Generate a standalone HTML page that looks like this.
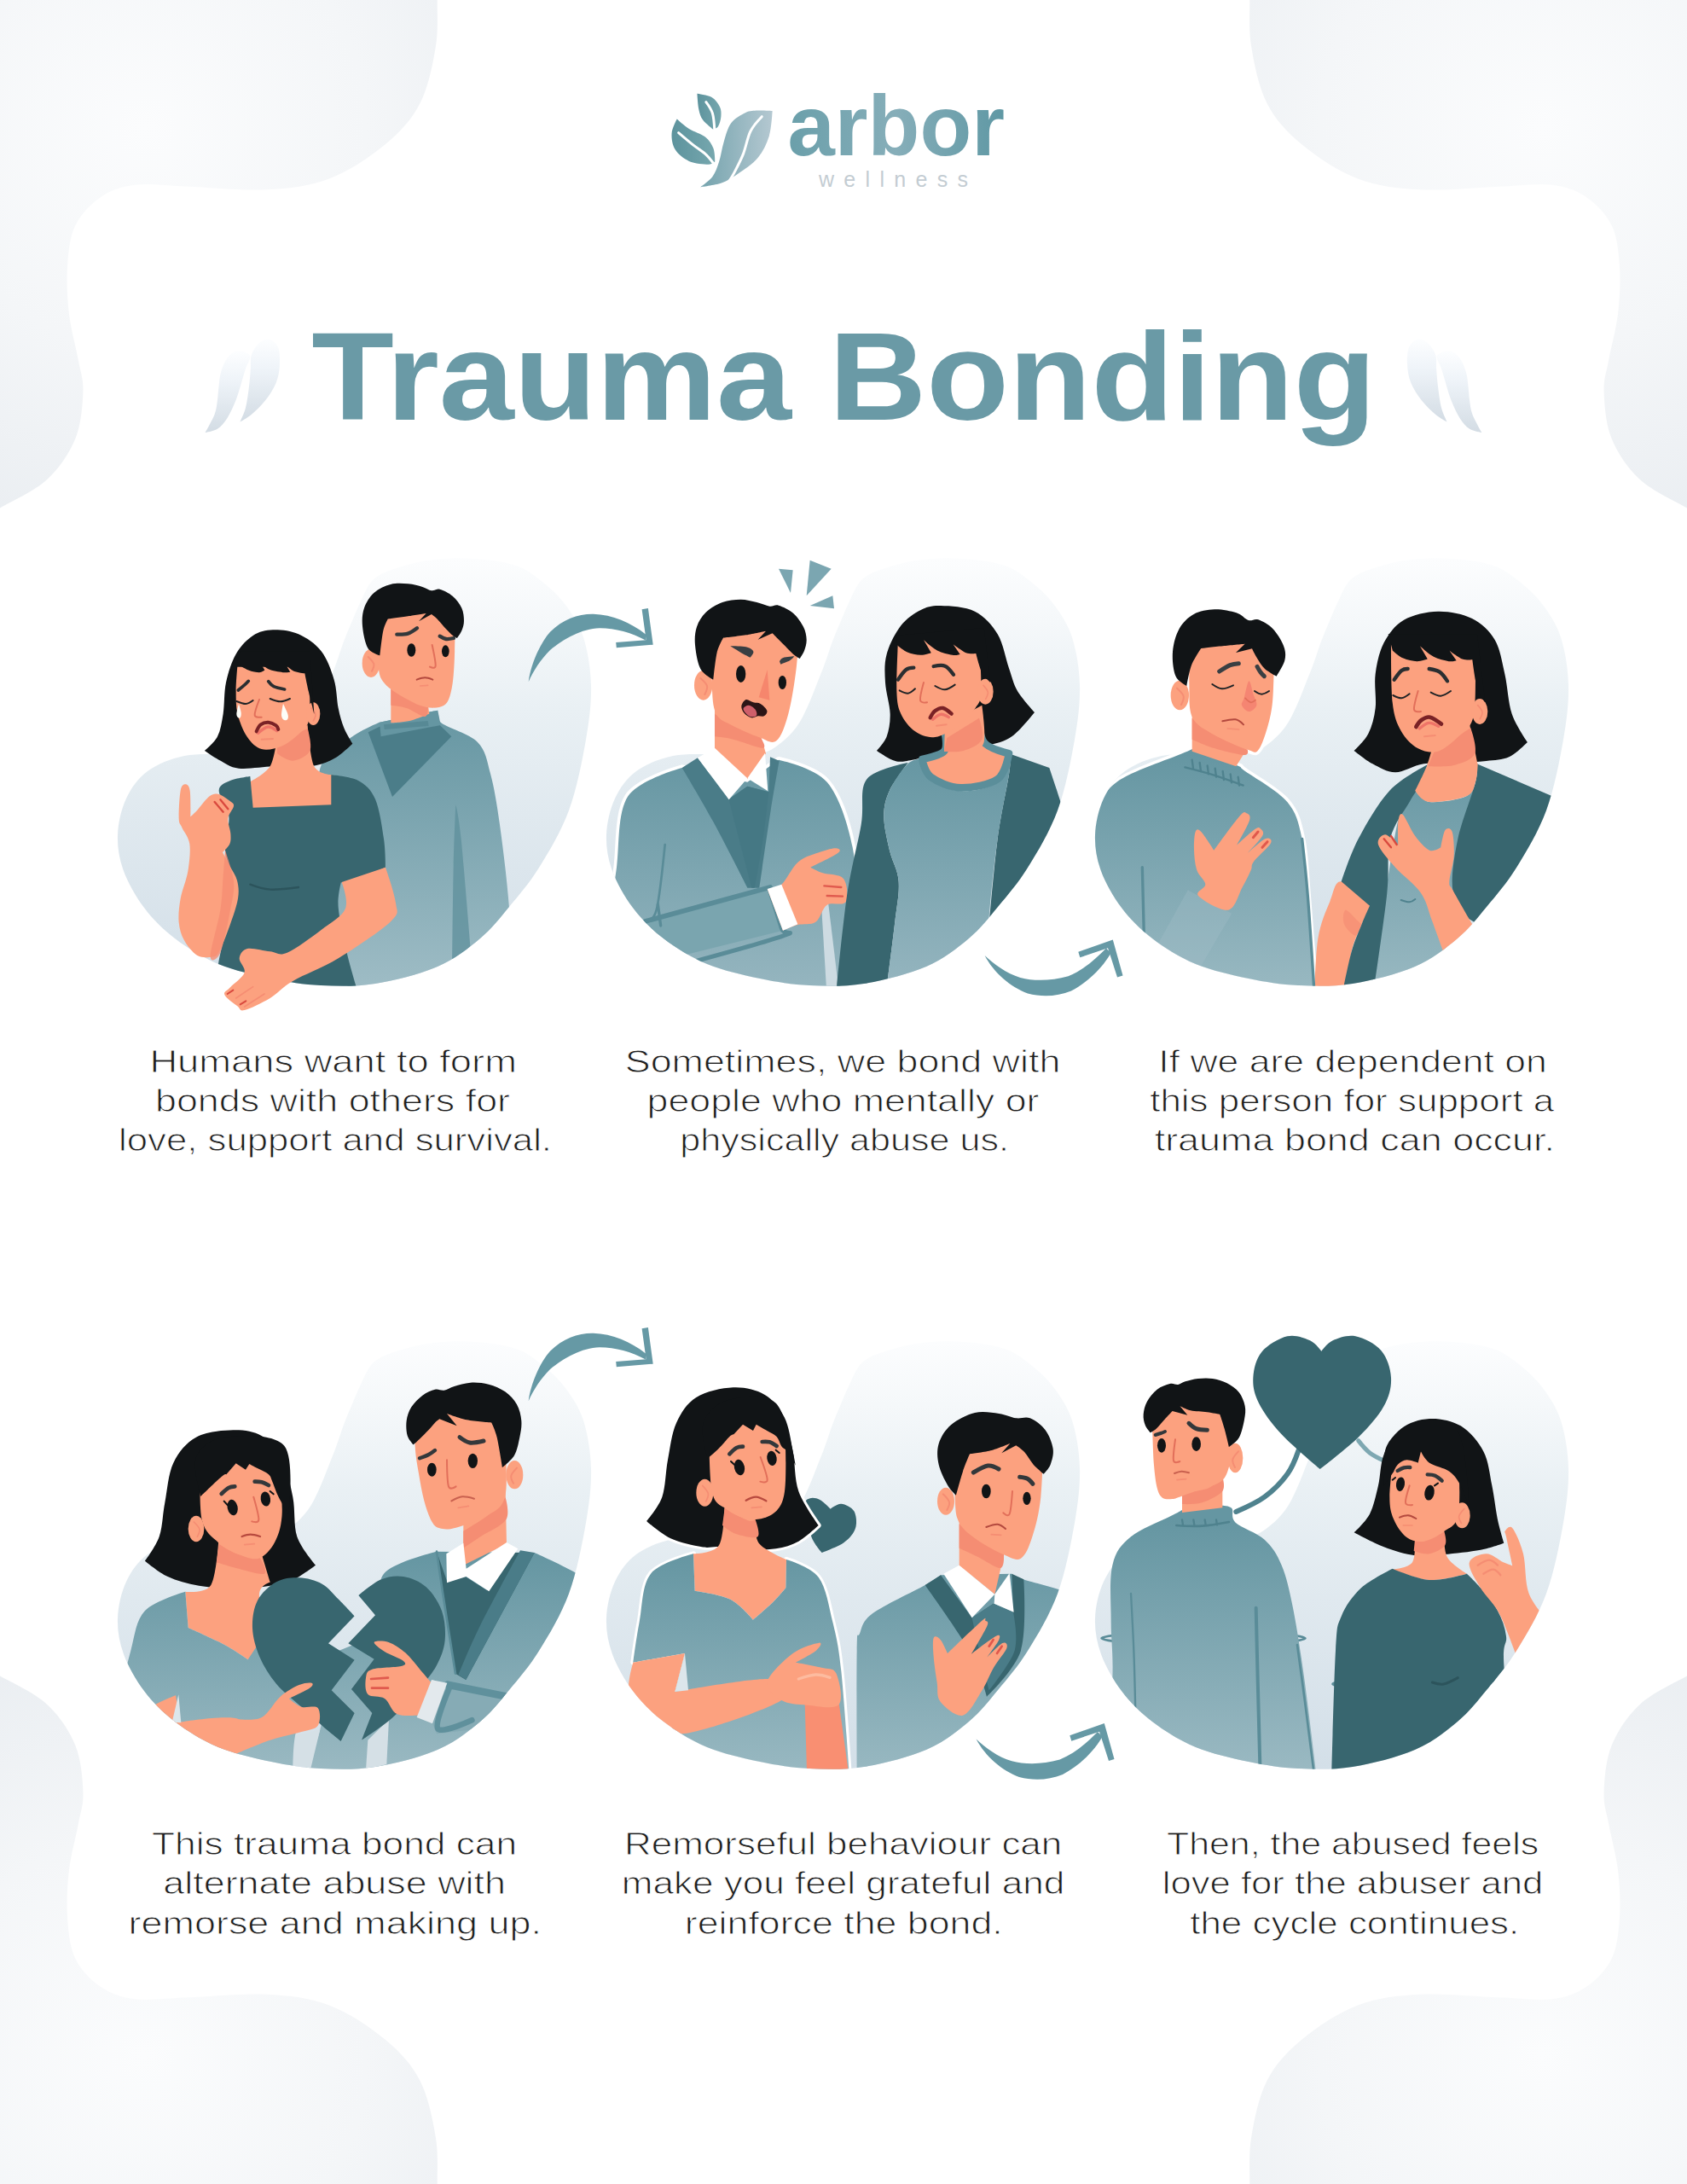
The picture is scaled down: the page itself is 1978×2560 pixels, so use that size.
<!DOCTYPE html>
<html lang="en"><head><meta charset="utf-8"><title>Trauma Bonding</title>
<style>html,body{margin:0;padding:0;background:#fff}svg{display:block}</style></head>
<body><svg width="1978" height="2560" viewBox="0 0 1978 2560">

<defs>
<linearGradient id="gblob" x1="0" y1="0" x2="0" y2="1"><stop offset="0" stop-color="#fcfdfe"/><stop offset="0.15" stop-color="#f5f8fa"/><stop offset="0.35" stop-color="#e9f0f4"/><stop offset="0.6" stop-color="#e0e9ef"/><stop offset="1" stop-color="#d3dfe8"/></linearGradient>
<radialGradient id="gcorner" gradientUnits="userSpaceOnUse" cx="170" cy="150" r="520"><stop offset="0" stop-color="#fbfcfd"/><stop offset="0.5" stop-color="#f4f6f8"/><stop offset="1" stop-color="#e9edf1"/></radialGradient>
<linearGradient id="gsw" gradientUnits="userSpaceOnUse" x1="0" y1="0" x2="0" y2="501"><stop offset="0.1" stop-color="#6798a4"/><stop offset="1" stop-color="#9dbcc5"/></linearGradient>
<linearGradient id="gtleaf" x1="0" y1="0" x2="0" y2="1"><stop offset="0" stop-color="#fdfeff"/><stop offset="0.35" stop-color="#eff4f9"/><stop offset="1" stop-color="#d3dce4"/></linearGradient>
<linearGradient id="glogo" x1="0" y1="0" x2="1" y2="0"><stop offset="0" stop-color="#6a9faa"/><stop offset="0.5" stop-color="#86aeb9"/><stop offset="1" stop-color="#5f98a4"/></linearGradient>
<linearGradient id="gleafb" x1="0" y1="0" x2="1" y2="0"><stop offset="0" stop-color="#74a3ad"/><stop offset="1" stop-color="#b4c8d1"/></linearGradient>
<linearGradient id="gleafs" x1="0" y1="0" x2="1" y2="0"><stop offset="0" stop-color="#5d939d"/><stop offset="1" stop-color="#76a7ae"/></linearGradient>
</defs><path d="M512.7 -20.0C512.7 -20.0 513.0 -12.5 512.7 0.0C512.4 12.5 514.2 34.8 510.8 55.0C507.4 75.2 502.3 102.0 492.5 121.0C482.7 140.0 469.8 154.2 452.0 169.0C434.2 183.8 409.3 200.6 386.0 209.5C362.7 218.4 340.0 220.8 312.4 222.3C284.8 223.8 246.2 219.6 220.5 218.7C194.8 217.8 175.2 214.7 158.0 216.8C140.8 218.9 129.2 223.5 117.6 231.5C106.0 239.5 94.6 251.1 88.2 264.6C81.8 278.1 80.2 295.2 79.0 312.4C77.8 329.5 78.8 349.1 80.9 367.5C83.1 385.9 89.2 407.3 91.9 422.6C94.7 437.9 98.0 444.1 97.4 459.4C96.8 474.7 95.3 497.4 88.2 514.5C81.1 531.6 69.7 548.8 55.0 562.3C40.3 575.8 12.5 588.3 0.0 595.4C-12.5 602.5 -20.0 605.0 -20.0 605.0L-20.0 -20.0L512.7 -20.0Z" fill="url(#gcorner)" transform=""/>
<path d="M512.7 -20.0C512.7 -20.0 513.0 -12.5 512.7 0.0C512.4 12.5 514.2 34.8 510.8 55.0C507.4 75.2 502.3 102.0 492.5 121.0C482.7 140.0 469.8 154.2 452.0 169.0C434.2 183.8 409.3 200.6 386.0 209.5C362.7 218.4 340.0 220.8 312.4 222.3C284.8 223.8 246.2 219.6 220.5 218.7C194.8 217.8 175.2 214.7 158.0 216.8C140.8 218.9 129.2 223.5 117.6 231.5C106.0 239.5 94.6 251.1 88.2 264.6C81.8 278.1 80.2 295.2 79.0 312.4C77.8 329.5 78.8 349.1 80.9 367.5C83.1 385.9 89.2 407.3 91.9 422.6C94.7 437.9 98.0 444.1 97.4 459.4C96.8 474.7 95.3 497.4 88.2 514.5C81.1 531.6 69.7 548.8 55.0 562.3C40.3 575.8 12.5 588.3 0.0 595.4C-12.5 602.5 -20.0 605.0 -20.0 605.0L-20.0 -20.0L512.7 -20.0Z" fill="url(#gcorner)" transform="translate(1978,0) scale(-1,1)"/>
<path d="M512.7 -20.0C512.7 -20.0 513.0 -12.5 512.7 0.0C512.4 12.5 514.2 34.8 510.8 55.0C507.4 75.2 502.3 102.0 492.5 121.0C482.7 140.0 469.8 154.2 452.0 169.0C434.2 183.8 409.3 200.6 386.0 209.5C362.7 218.4 340.0 220.8 312.4 222.3C284.8 223.8 246.2 219.6 220.5 218.7C194.8 217.8 175.2 214.7 158.0 216.8C140.8 218.9 129.2 223.5 117.6 231.5C106.0 239.5 94.6 251.1 88.2 264.6C81.8 278.1 80.2 295.2 79.0 312.4C77.8 329.5 78.8 349.1 80.9 367.5C83.1 385.9 89.2 407.3 91.9 422.6C94.7 437.9 98.0 444.1 97.4 459.4C96.8 474.7 95.3 497.4 88.2 514.5C81.1 531.6 69.7 548.8 55.0 562.3C40.3 575.8 12.5 588.3 0.0 595.4C-12.5 602.5 -20.0 605.0 -20.0 605.0L-20.0 -20.0L512.7 -20.0Z" fill="url(#gcorner)" transform="translate(0,2560) scale(1,-1)"/>
<path d="M512.7 -20.0C512.7 -20.0 513.0 -12.5 512.7 0.0C512.4 12.5 514.2 34.8 510.8 55.0C507.4 75.2 502.3 102.0 492.5 121.0C482.7 140.0 469.8 154.2 452.0 169.0C434.2 183.8 409.3 200.6 386.0 209.5C362.7 218.4 340.0 220.8 312.4 222.3C284.8 223.8 246.2 219.6 220.5 218.7C194.8 217.8 175.2 214.7 158.0 216.8C140.8 218.9 129.2 223.5 117.6 231.5C106.0 239.5 94.6 251.1 88.2 264.6C81.8 278.1 80.2 295.2 79.0 312.4C77.8 329.5 78.8 349.1 80.9 367.5C83.1 385.9 89.2 407.3 91.9 422.6C94.7 437.9 98.0 444.1 97.4 459.4C96.8 474.7 95.3 497.4 88.2 514.5C81.1 531.6 69.7 548.8 55.0 562.3C40.3 575.8 12.5 588.3 0.0 595.4C-12.5 602.5 -20.0 605.0 -20.0 605.0L-20.0 -20.0L512.7 -20.0Z" fill="url(#gcorner)" transform="translate(1978,2560) scale(-1,-1)"/>
<defs><path id="blobp" d="M78.0 231.0C62.2 234.3 46.3 240.7 35.0 249.0C23.7 257.3 15.8 268.5 10.0 281.0C4.2 293.5 0.5 309.8 0.0 324.0C-0.5 338.2 1.8 351.8 7.0 366.0C12.2 380.2 21.0 395.8 31.0 409.0C41.0 422.2 52.5 434.0 67.0 445.0C81.5 456.0 99.2 467.2 118.0 475.0C136.8 482.8 160.0 487.8 180.0 492.0C200.0 496.2 217.7 499.0 238.0 500.0C258.3 501.0 279.2 501.7 302.0 498.0C324.8 494.3 354.5 486.8 375.0 478.0C395.5 469.2 411.0 456.7 425.0 445.0C439.0 433.3 447.5 421.8 459.0 408.0C470.5 394.2 482.3 380.8 494.0 362.0C505.7 343.2 519.8 320.0 529.0 295.0C538.2 270.0 544.7 236.5 549.0 212.0C553.3 187.5 555.5 168.0 555.0 148.0C554.5 128.0 551.0 107.7 546.0 92.0C541.0 76.3 533.0 64.8 525.0 54.0C517.0 43.2 507.7 34.7 498.0 27.0C488.3 19.3 480.0 12.5 467.0 8.0C454.0 3.5 436.2 1.2 420.0 0.0C403.8 -1.2 385.0 -0.7 370.0 1.0C355.0 2.7 341.7 6.2 330.0 10.0C318.3 13.8 307.7 17.0 300.0 24.0C292.3 31.0 288.3 43.5 284.0 52.0C279.7 60.5 277.2 67.5 274.0 75.0C270.8 82.5 268.0 89.0 265.0 97.0C262.0 105.0 259.0 114.8 256.0 123.0C253.0 131.2 250.3 137.7 247.0 146.0C243.7 154.3 240.0 164.5 236.0 173.0C232.0 181.5 228.5 189.7 223.0 197.0C217.5 204.3 210.2 211.8 203.0 217.0C195.8 222.2 192.2 226.0 180.0 228.0C167.8 230.0 147.0 228.5 130.0 229.0C113.0 229.5 93.8 227.7 78.0 231.0Z"/><clipPath id="cb1"><use href="#blobp" transform="translate(138,655)"/></clipPath><clipPath id="cb2"><use href="#blobp" transform="translate(711,655)"/></clipPath><clipPath id="cb3"><use href="#blobp" transform="translate(1284,655)"/></clipPath><clipPath id="cb4"><use href="#blobp" transform="translate(138,1573)"/></clipPath><clipPath id="cb5"><use href="#blobp" transform="translate(711,1573)"/></clipPath><clipPath id="cb6"><use href="#blobp" transform="translate(1284,1573)"/></clipPath></defs>
<use href="#blobp" transform="translate(138,655)" fill="url(#gblob)"/>
<use href="#blobp" transform="translate(711,655)" fill="url(#gblob)"/>
<use href="#blobp" transform="translate(1284,655)" fill="url(#gblob)"/>
<use href="#blobp" transform="translate(138,1573)" fill="url(#gblob)"/>
<use href="#blobp" transform="translate(711,1573)" fill="url(#gblob)"/>
<use href="#blobp" transform="translate(1284,1573)" fill="url(#gblob)"/>
<g transform="translate(770,95) scale(0.09484)"><path d="M1430.0 370.0C1430.0 370.0 1305.0 361.7 1250.0 365.0C1195.0 368.3 1155.0 364.2 1100.0 390.0C1045.0 415.8 965.0 460.0 920.0 520.0C875.0 580.0 855.0 670.0 830.0 750.0C805.0 830.0 793.3 928.3 770.0 1000.0C746.7 1071.7 728.3 1128.3 690.0 1180.0C651.7 1231.7 540.0 1310.0 540.0 1310.0C540.0 1310.0 723.3 1286.7 800.0 1260.0C876.7 1233.3 925.0 1201.7 1000.0 1150.0C1075.0 1098.3 1185.0 1028.3 1250.0 950.0C1315.0 871.7 1360.0 776.7 1390.0 680.0C1420.0 583.3 1430.0 370.0 1430.0 370.0Z" fill="url(#gleafb)" /><path d="M1300.0 440.0C1300.0 440.0 1198.3 543.3 1160.0 620.0C1121.7 696.7 1103.3 815.0 1070.0 900.0C1036.7 985.0 988.3 1075.0 960.0 1130.0C931.7 1185.0 900.0 1230.0 900.0 1230.0" fill="none" stroke="#fff" stroke-width="32" stroke-linecap="round" stroke-linejoin="round" /><path d="M250.0 470.0C250.0 470.0 188.3 586.7 185.0 650.0C181.7 713.3 194.2 793.3 230.0 850.0C265.8 906.7 331.7 960.0 400.0 990.0C468.3 1020.0 586.7 1029.2 640.0 1030.0C693.3 1030.8 720.0 995.0 720.0 995.0C720.0 995.0 720.0 880.8 700.0 830.0C680.0 779.2 650.0 730.0 600.0 690.0C550.0 650.0 458.3 626.7 400.0 590.0C341.7 553.3 250.0 470.0 250.0 470.0Z" fill="url(#gleafs)" /><path d="M270.0 640.0C270.0 640.0 395.0 746.7 450.0 790.0C505.0 833.3 558.3 862.5 600.0 900.0C641.7 937.5 700.0 1015.0 700.0 1015.0" fill="none" stroke="#fff" stroke-width="32" stroke-linecap="round" stroke-linejoin="round" /><path d="M500.0 155.0C500.0 155.0 508.3 295.8 520.0 350.0C531.7 404.2 540.0 438.3 570.0 480.0C600.0 521.7 700.0 600.0 700.0 600.0C700.0 600.0 744.2 586.7 760.0 560.0C775.8 533.3 791.7 480.0 795.0 440.0C798.3 400.0 799.2 360.0 780.0 320.0C760.8 280.0 726.7 227.5 680.0 200.0C633.3 172.5 500.0 155.0 500.0 155.0Z" fill="url(#gleafs)" /><path d="M610.0 260.0C610.0 260.0 672.5 341.7 690.0 400.0C707.5 458.3 715.0 610.0 715.0 610.0" fill="none" stroke="#fff" stroke-width="32" stroke-linecap="round" stroke-linejoin="round" /></g>
<text x="923.5" y="182" font-family="'Liberation Sans', sans-serif" font-weight="700" font-size="101" textLength="254.5" lengthAdjust="spacingAndGlyphs" fill="url(#glogo)">arbor</text>
<text x="960" y="219" font-family="'Liberation Sans', sans-serif" font-size="25" textLength="175" lengthAdjust="spacing" fill="#c3ccd2">wellness</text>
<text x="365.3" y="491.5" font-family="'Liberation Sans', sans-serif" font-weight="700" font-size="146.5" textLength="1248" lengthAdjust="spacingAndGlyphs" fill="#6a9aa6">Trauma Bonding</text>
<g transform=""><path d="M293.0 416.5C291.3 413.1 282.4 410.9 278.0 411.5C273.6 412.1 269.7 415.7 266.5 419.8C263.3 423.9 260.7 430.9 259.0 436.4C257.3 441.9 257.2 447.5 256.5 453.0C255.8 458.5 255.7 464.1 254.9 469.6C254.1 475.1 253.9 479.8 251.5 486.0C249.1 492.2 240.7 507.0 240.7 507.0C240.7 507.0 250.6 505.6 254.9 502.8C259.2 500.0 262.9 495.5 266.5 490.0C270.1 484.5 273.6 476.5 276.4 469.6C279.1 462.7 281.1 455.1 283.0 448.8C284.9 442.5 286.3 437.4 288.0 432.0C289.7 426.6 294.7 419.9 293.0 416.5Z" fill="url(#gtleaf)" /><path d="M294.7 416.5C296.2 411.7 299.6 406.2 303.0 403.0C306.4 399.8 311.6 396.7 315.4 397.4C319.2 398.1 323.9 401.9 326.0 407.0C328.1 412.1 328.3 421.0 327.9 428.0C327.5 435.0 326.5 441.9 323.7 448.8C320.9 455.7 315.8 463.4 311.0 469.6C306.2 475.8 299.6 481.9 294.7 486.0C289.8 490.1 281.4 494.5 281.4 494.5C281.4 494.5 286.2 484.9 288.0 478.0C289.8 471.1 291.0 460.7 292.0 453.0C293.0 445.3 293.4 438.1 293.9 432.0C294.3 425.9 293.2 421.3 294.7 416.5Z" fill="url(#gtleaf)" /></g>
<g transform="translate(1978,0) scale(-1,1)"><path d="M293.0 416.5C291.3 413.1 282.4 410.9 278.0 411.5C273.6 412.1 269.7 415.7 266.5 419.8C263.3 423.9 260.7 430.9 259.0 436.4C257.3 441.9 257.2 447.5 256.5 453.0C255.8 458.5 255.7 464.1 254.9 469.6C254.1 475.1 253.9 479.8 251.5 486.0C249.1 492.2 240.7 507.0 240.7 507.0C240.7 507.0 250.6 505.6 254.9 502.8C259.2 500.0 262.9 495.5 266.5 490.0C270.1 484.5 273.6 476.5 276.4 469.6C279.1 462.7 281.1 455.1 283.0 448.8C284.9 442.5 286.3 437.4 288.0 432.0C289.7 426.6 294.7 419.9 293.0 416.5Z" fill="url(#gtleaf)" /><path d="M294.7 416.5C296.2 411.7 299.6 406.2 303.0 403.0C306.4 399.8 311.6 396.7 315.4 397.4C319.2 398.1 323.9 401.9 326.0 407.0C328.1 412.1 328.3 421.0 327.9 428.0C327.5 435.0 326.5 441.9 323.7 448.8C320.9 455.7 315.8 463.4 311.0 469.6C306.2 475.8 299.6 481.9 294.7 486.0C289.8 490.1 281.4 494.5 281.4 494.5C281.4 494.5 286.2 484.9 288.0 478.0C289.8 471.1 291.0 460.7 292.0 453.0C293.0 445.3 293.4 438.1 293.9 432.0C294.3 425.9 293.2 421.3 294.7 416.5Z" fill="url(#gtleaf)" /></g>
<g transform="translate(0,0)" fill="#6699a5"><path d="M619.7 799.2 C622 780 633 754 645 740.7 C660 726 678 719.5 695.7 719.8 C718 720.5 740 730 757 743.5 L757.5 750.8 C740 741 722 736.5 703 736.2 C682 737 661 748.5 645 762.1 C634 773 625 787 619.7 799.2Z"/><path d="M752.6 714.2 L759.9 713.1 L765.7 755.7 L722.8 759.3 L722.2 753.1 L757.6 750.2Z"/></g>
<g transform="translate(0,0)" fill="#6699a5"><path d="M1154.6 1120 C1165 1130 1180 1141 1196.3 1145.9 C1212 1150 1232 1150 1252.6 1144.2 C1270 1137 1285 1124 1297 1111.5 L1302.5 1117 C1295 1131 1278 1150 1256 1161.5 C1240 1168 1222 1169 1205 1164.5 C1185 1157 1165 1140 1154.6 1120Z"/><path d="M1304.8 1101.5 L1264.3 1115.8 L1266.3 1122.3 L1299 1111.3 L1310 1145.5 L1316.5 1143.5Z"/></g>
<g transform="translate(0,843)" fill="#6699a5"><path d="M619.7 799.2 C622 780 633 754 645 740.7 C660 726 678 719.5 695.7 719.8 C718 720.5 740 730 757 743.5 L757.5 750.8 C740 741 722 736.5 703 736.2 C682 737 661 748.5 645 762.1 C634 773 625 787 619.7 799.2Z"/><path d="M752.6 714.2 L759.9 713.1 L765.7 755.7 L722.8 759.3 L722.2 753.1 L757.6 750.2Z"/></g>
<g transform="translate(-10,918.4)" fill="#6699a5"><path d="M1154.6 1120 C1165 1130 1180 1141 1196.3 1145.9 C1212 1150 1232 1150 1252.6 1144.2 C1270 1137 1285 1124 1297 1111.5 L1302.5 1117 C1295 1131 1278 1150 1256 1161.5 C1240 1168 1222 1169 1205 1164.5 C1185 1157 1165 1140 1154.6 1120Z"/><path d="M1304.8 1101.5 L1264.3 1115.8 L1266.3 1122.3 L1299 1111.3 L1310 1145.5 L1316.5 1143.5Z"/></g>
<defs><linearGradient id="gs1" gradientUnits="userSpaceOnUse" x1="0" y1="560" x2="0" y2="1520"><stop offset="0" stop-color="#6797a3"/><stop offset="1" stop-color="#9ebcc5"/></linearGradient></defs>
<g transform="translate(130,650) scale(0.33333)">
<defs><clipPath id="cl1"><use href="#blobp" transform="translate(24,15) scale(3)"/><rect x="-126" y="-285" width="1140" height="1020"/></clipPath></defs><g clip-path="url(#cl1)"><path d="M945.0 590.0L1150.0 548.0C1150.0 548.0 1138.7 573.3 1162.0 592.0C1185.3 610.7 1261.2 630.3 1290.0 660.0C1318.8 689.7 1322.0 721.7 1335.0 770.0C1348.0 818.3 1357.2 873.3 1368.0 950.0C1378.8 1026.7 1391.3 1128.3 1400.0 1230.0C1408.7 1331.7 1420.0 1560.0 1420.0 1560.0L840.0 1560.0C840.0 1560.0 776.7 1210.0 760.0 1100.0C743.3 990.0 743.3 960.0 740.0 900.0C736.7 840.0 721.7 783.3 740.0 740.0C758.3 696.7 815.8 665.0 850.0 640.0C884.2 615.0 945.0 590.0 945.0 590.0Z" fill="url(#gs1)" /><path d="M905.0 625.0L990.0 852.0L1198.0 640.0L1155.0 598.0L950.0 603.0L905.0 625.0Z" fill="#4b7d89" /><path d="M1213.0 880.0C1213.0 880.0 1222.8 910.0 1232.0 1000.0C1241.2 1090.0 1268.0 1420.0 1268.0 1420.0L1200.0 1480.0C1200.0 1480.0 1202.8 1200.0 1205.0 1100.0C1207.2 1000.0 1213.0 880.0 1213.0 880.0Z" fill="#5d8f9b" opacity="0.75"/><path d="M945.0 590.0L1150.0 548.0L1160.0 600.0L950.0 640.0L945.0 590.0Z" fill="#6596a2" /><path d="M960.0 598.0L1115.0 585.0L1118.0 603.0L962.0 615.0L960.0 598.0Z" fill="#578995" /></g><path d="M985.0 430.0L985.0 592.0C985.0 592.0 1027.5 590.3 1050.0 585.0C1072.5 579.7 1120.0 560.0 1120.0 560.0L1112.0 500.0L985.0 430.0Z" fill="#fca17f" /><path d="M985.0 455.0C985.0 455.0 1038.3 486.7 1060.0 500.0C1081.7 513.3 1115.0 535.0 1115.0 535.0C1115.0 535.0 1117.5 569.2 1105.0 570.0C1092.5 570.8 1060.0 546.7 1040.0 540.0C1020.0 533.3 985.0 530.0 985.0 530.0L985.0 455.0Z" fill="#f58d73" /><ellipse cx="915" cy="382" rx="31" ry="50" fill="#fca17f"/><path d="M905.0 360.0C905.0 360.0 922.8 376.7 925.0 385.0C927.2 393.3 918.0 410.0 918.0 410.0" fill="none" stroke="#f58d73" stroke-width="6" stroke-linecap="round" stroke-linejoin="round" /><path d="M940.0 190.0L1212.0 190.0C1212.0 190.0 1210.5 331.7 1208.0 380.0C1205.5 428.3 1203.0 455.0 1197.0 480.0C1191.0 505.0 1186.5 520.5 1172.0 530.0C1157.5 539.5 1132.0 540.7 1110.0 537.0C1088.0 533.3 1064.7 522.2 1040.0 508.0C1015.3 493.8 978.7 473.3 962.0 452.0C945.3 430.7 943.7 423.7 940.0 380.0C936.3 336.3 940.0 190.0 940.0 190.0Z" fill="#fca17f" /><path d="M946.0 355.0C946.0 355.0 914.2 346.2 904.0 329.0C893.8 311.8 887.2 275.5 885.0 252.0C882.8 228.5 884.2 207.7 891.0 188.0C897.8 168.3 910.5 147.8 926.0 134.0C941.5 120.2 964.2 110.2 984.0 105.0C1003.8 99.8 1026.3 101.5 1045.0 103.0C1063.7 104.5 1082.2 110.0 1096.0 114.0C1109.8 118.0 1117.8 125.7 1128.0 127.0C1138.2 128.3 1144.7 118.8 1157.0 122.0C1169.3 125.2 1189.2 135.0 1202.0 146.0C1214.8 157.0 1227.3 173.5 1234.0 188.0C1240.7 202.5 1242.0 219.7 1242.0 233.0C1242.0 246.3 1238.0 257.8 1234.0 268.0C1230.0 278.2 1218.0 294.0 1218.0 294.0C1218.0 294.0 1206.0 288.0 1198.0 281.0C1190.0 274.0 1178.5 261.2 1170.0 252.0C1161.5 242.8 1154.0 233.0 1147.0 226.0C1140.0 219.0 1128.0 210.0 1128.0 210.0L1083.0 235.0L1109.0 207.0C1109.0 207.0 1067.5 213.7 1045.0 217.0C1022.5 220.3 974.0 227.0 974.0 227.0C974.0 227.0 962.7 246.7 958.0 268.0C953.3 289.3 946.0 355.0 946.0 355.0Z" fill="#111416" /><ellipse cx="1057" cy="336" rx="15" ry="23" fill="#111416"/><ellipse cx="1177" cy="340" rx="13" ry="21" fill="#111416"/><path d="M1006.0 281.0C1006.0 281.0 1033.2 281.7 1045.0 278.0C1056.8 274.3 1077.0 259.0 1077.0 259.0" fill="none" stroke="#33383b" stroke-width="13" stroke-linecap="round" stroke-linejoin="round" /><path d="M1157.0 287.0C1157.0 287.0 1170.8 295.8 1179.0 297.0C1187.2 298.2 1206.0 294.0 1206.0 294.0" fill="none" stroke="#33383b" stroke-width="13" stroke-linecap="round" stroke-linejoin="round" /><path d="M1130.0 318.0C1130.0 318.0 1143.3 379.2 1142.0 392.0C1140.7 404.8 1122.0 395.0 1122.0 395.0" fill="none" stroke="#e26f5a" stroke-width="6" stroke-linecap="round" stroke-linejoin="round" /><path d="M1076.0 440.0C1076.0 440.0 1095.7 433.0 1105.0 433.0C1114.3 433.0 1132.0 440.0 1132.0 440.0" fill="none" stroke="#b4493e" stroke-width="6" stroke-linecap="round" stroke-linejoin="round" /><path d="M1088.0 462.0L1115.0 460.0" fill="none" stroke="#f58d73" stroke-width="5" stroke-linecap="round" stroke-linejoin="round" /><path d="M570.0 265.0C596.7 264.2 631.7 267.5 660.0 280.0C688.3 292.5 719.2 313.3 740.0 340.0C760.8 366.7 775.0 406.7 785.0 440.0C795.0 473.3 794.2 511.7 800.0 540.0C805.8 568.3 811.7 589.2 820.0 610.0C828.3 630.8 850.0 665.0 850.0 665.0C850.0 665.0 811.7 702.2 790.0 715.0C768.3 727.8 745.0 736.5 720.0 742.0C695.0 747.5 665.0 747.5 640.0 748.0C615.0 748.5 601.7 744.3 570.0 745.0C538.3 745.7 481.7 755.8 450.0 752.0C418.3 748.2 400.0 732.3 380.0 722.0C360.0 711.7 330.0 690.0 330.0 690.0C330.0 690.0 364.2 661.7 375.0 640.0C385.8 618.3 390.0 591.7 395.0 560.0C400.0 528.3 397.5 485.0 405.0 450.0C412.5 415.0 424.2 377.5 440.0 350.0C455.8 322.5 478.3 299.2 500.0 285.0C521.7 270.8 543.3 265.8 570.0 265.0Z" fill="#111416" /><path d="M585.0 640.0L692.0 600.0C692.0 600.0 700.3 715.8 715.0 745.0C729.7 774.2 780.0 775.0 780.0 775.0L780.0 885.0L498.0 892.0L488.0 800.0C488.0 800.0 543.8 771.7 560.0 745.0C576.2 718.3 585.0 640.0 585.0 640.0Z" fill="#fca17f" /><path d="M585.0 660.0L692.0 612.0C692.0 612.0 708.7 671.2 700.0 690.0C691.3 708.8 659.2 723.3 640.0 725.0C620.8 726.7 585.0 700.0 585.0 700.0L585.0 660.0Z" fill="#f58d73" /><g clip-path="url(#cl1)"><path d="M380.0 830.0C380.8 809.2 401.7 803.3 420.0 795.0C438.3 786.7 490.0 780.0 490.0 780.0L500.0 890.0L775.0 880.0L775.0 775.0C775.0 775.0 844.2 780.8 870.0 795.0C895.8 809.2 915.0 825.8 930.0 860.0C945.0 894.2 954.0 960.0 960.0 1000.0C966.0 1040.0 966.0 1100.0 966.0 1100.0C966.0 1100.0 866.0 1141.3 840.0 1150.0C814.0 1158.7 810.0 1152.0 810.0 1152.0C810.0 1152.0 796.7 1198.7 800.0 1240.0C803.3 1281.3 817.5 1346.7 830.0 1400.0C842.5 1453.3 875.0 1560.0 875.0 1560.0L370.0 1560.0C370.0 1560.0 369.7 1491.7 378.0 1440.0C386.3 1388.3 411.0 1298.3 420.0 1250.0C429.0 1201.7 435.0 1185.0 432.0 1150.0C429.0 1115.0 404.8 1078.3 402.0 1040.0C399.2 1001.7 418.7 955.0 415.0 920.0C411.3 885.0 379.2 850.8 380.0 830.0Z" fill="#38666f" /></g><path d="M490.0 1160.0C490.0 1160.0 531.7 1176.3 560.0 1178.0C588.3 1179.7 660.0 1170.0 660.0 1170.0" fill="none" stroke="#2c545c" stroke-width="7" stroke-linecap="round" stroke-linejoin="round" /><path d="M262.0 808.0C267.5 808.0 275.0 811.0 278.0 830.0C281.0 849.0 280.0 922.0 280.0 922.0C280.0 922.0 291.8 912.0 303.0 900.0C314.2 888.0 334.2 859.5 347.0 850.0C359.8 840.5 367.8 840.0 380.0 843.0C392.2 846.0 411.3 861.0 420.0 868.0C428.7 875.0 433.3 875.0 432.0 885.0C430.7 895.0 413.8 912.2 412.0 928.0C410.2 943.8 420.0 965.0 421.0 980.0C422.0 995.0 422.7 1006.8 418.0 1018.0C413.3 1029.2 393.0 1047.0 393.0 1047.0C393.0 1047.0 409.5 1078.5 418.0 1095.0C426.5 1111.5 439.2 1126.8 444.0 1146.0C448.8 1165.2 451.3 1183.3 447.0 1210.0C442.7 1236.7 429.2 1274.7 418.0 1306.0C406.8 1337.3 390.7 1379.8 380.0 1398.0C369.3 1416.2 366.8 1413.2 354.0 1415.0C341.2 1416.8 319.0 1418.7 303.0 1409.0C287.0 1399.3 268.7 1376.3 258.0 1357.0C247.3 1337.7 241.2 1317.5 239.0 1293.0C236.8 1268.5 239.7 1239.8 245.0 1210.0C250.3 1180.2 265.7 1146.0 271.0 1114.0C276.3 1082.0 280.5 1043.7 277.0 1018.0C273.5 992.3 256.3 975.0 250.0 960.0C243.7 945.0 239.8 949.7 239.0 928.0C238.2 906.3 241.2 850.0 245.0 830.0C248.8 810.0 256.5 808.0 262.0 808.0Z" fill="#fca17f" /><path d="M402.0 1040.0C402.0 1040.0 429.0 1115.0 432.0 1150.0C435.0 1185.0 427.8 1208.3 420.0 1250.0C412.2 1291.7 396.7 1373.0 385.0 1400.0C373.3 1427.0 350.0 1437.0 350.0 1412.0C350.0 1387.0 377.5 1297.0 385.0 1250.0C392.5 1203.0 392.2 1165.0 395.0 1130.0C397.8 1095.0 402.0 1040.0 402.0 1040.0Z" fill="#f58d73" opacity="0.8"/><path d="M365.0 870.0L395.0 905.0" fill="none" stroke="#d9493e" stroke-width="7" stroke-linecap="round" stroke-linejoin="round" /><path d="M385.0 862.0L412.0 895.0" fill="none" stroke="#d9493e" stroke-width="7" stroke-linecap="round" stroke-linejoin="round" /><path d="M812.0 1152.0L966.0 1100.0C966.0 1100.0 998.8 1193.3 1002.0 1225.0C1005.2 1256.7 1018.7 1257.5 985.0 1290.0C951.3 1322.5 857.5 1385.0 800.0 1420.0C742.5 1455.0 680.0 1476.7 640.0 1500.0C600.0 1523.3 588.3 1543.0 560.0 1560.0C531.7 1577.0 489.2 1597.3 470.0 1602.0C450.8 1606.7 456.7 1597.0 445.0 1588.0C433.3 1579.0 404.2 1559.0 400.0 1548.0C395.8 1537.0 408.3 1535.0 420.0 1522.0C431.7 1509.0 464.7 1487.0 470.0 1470.0C475.3 1453.0 450.3 1434.0 452.0 1420.0C453.7 1406.0 462.0 1390.0 480.0 1386.0C498.0 1382.0 536.7 1393.7 560.0 1396.0C583.3 1398.3 590.0 1412.7 620.0 1400.0C650.0 1387.3 705.8 1345.8 740.0 1320.0C774.2 1294.2 813.0 1273.0 825.0 1245.0C837.0 1217.0 812.0 1152.0 812.0 1152.0Z" fill="#fca17f" /><path d="M440.0 1560.0L500.0 1520.0" fill="none" stroke="#f58d73" stroke-width="5" stroke-linecap="round" stroke-linejoin="round" /><path d="M470.0 1590.0L540.0 1545.0" fill="none" stroke="#f58d73" stroke-width="5" stroke-linecap="round" stroke-linejoin="round" /><path d="M455.0 1582.0L475.0 1570.0" fill="none" stroke="#d9493e" stroke-width="6" stroke-linecap="round" stroke-linejoin="round" /><path d="M410.0 1545.0L430.0 1532.0" fill="none" stroke="#d9493e" stroke-width="6" stroke-linecap="round" stroke-linejoin="round" /><path d="M445.0 395.0L700.0 395.0C700.0 395.0 701.0 487.2 700.0 520.0C699.0 552.8 700.7 573.3 694.0 592.0C687.3 610.7 675.7 618.3 660.0 632.0C644.3 645.7 621.7 665.3 600.0 674.0C578.3 682.7 550.0 689.3 530.0 684.0C510.0 678.7 494.0 662.3 480.0 642.0C466.0 621.7 452.7 589.0 446.0 562.0C439.3 535.0 440.2 507.8 440.0 480.0C439.8 452.2 445.0 395.0 445.0 395.0Z" fill="#fca17f" /><ellipse cx="712" cy="560" rx="24" ry="40" fill="#fca17f"/><path d="M705.0 540.0C705.0 540.0 718.8 554.5 720.0 562.0C721.2 569.5 712.0 585.0 712.0 585.0" fill="none" stroke="#f58d73" stroke-width="5" stroke-linecap="round" stroke-linejoin="round" /><path d="M443.6 384.0L455.0 340.0L700.0 340.0L715.0 560.0C715.0 560.0 700.5 503.7 695.0 480.0C689.5 456.3 682.0 418.0 682.0 418.0C682.0 418.0 654.9 414.8 644.0 410.0C633.1 405.2 616.5 389.0 616.5 389.0L631.0 413.0C631.0 413.0 617.8 416.2 605.0 414.5C592.2 412.8 567.5 409.1 554.0 403.0C540.5 396.9 523.7 377.6 523.7 377.6L541.0 406.5C541.0 406.5 531.6 414.5 522.0 414.5C512.4 414.5 496.7 411.6 483.6 406.5C470.5 401.4 443.6 384.0 443.6 384.0Z" fill="#111416" /><path d="M448.0 477.0C448.0 477.0 465.0 463.3 471.0 458.0C477.0 452.7 484.0 445.0 484.0 445.0" fill="none" stroke="#2a2e31" stroke-width="11" stroke-linecap="round" stroke-linejoin="round" /><path d="M554.0 446.0C554.0 446.0 563.5 459.3 573.0 464.0C582.5 468.7 611.0 474.0 611.0 474.0" fill="none" stroke="#2a2e31" stroke-width="11" stroke-linecap="round" stroke-linejoin="round" /><path d="M442.0 516.0C442.0 516.0 465.3 525.5 475.0 525.0C484.7 524.5 500.0 513.0 500.0 513.0" fill="none" stroke="#1f2326" stroke-width="6" stroke-linecap="round" stroke-linejoin="round" /><path d="M560.0 507.0C560.0 507.0 584.3 517.0 596.0 517.0C607.7 517.0 630.0 507.0 630.0 507.0" fill="none" stroke="#1f2326" stroke-width="6" stroke-linecap="round" stroke-linejoin="round" /><path d="M450.0 525.0C450.0 525.0 457.0 547.2 458.0 555.0C459.0 562.8 457.7 568.8 456.0 572.0C454.3 575.2 450.3 576.0 448.0 574.0C445.7 572.0 441.7 568.2 442.0 560.0C442.3 551.8 450.0 525.0 450.0 525.0Z" fill="#fdfdf8" /><path d="M606.0 524.0C606.0 524.0 619.3 551.0 622.0 560.0C624.7 569.0 624.0 574.3 622.0 578.0C620.0 581.7 613.7 584.0 610.0 582.0C606.3 580.0 600.7 575.7 600.0 566.0C599.3 556.3 606.0 524.0 606.0 524.0Z" fill="#fdfdf8" /><path d="M522.0 510.0C522.0 510.0 504.7 554.7 506.0 565.0C507.3 575.3 530.0 572.0 530.0 572.0" fill="none" stroke="#e26f5a" stroke-width="6" stroke-linecap="round" stroke-linejoin="round" /><path d="M518.0 628.0C518.0 628.0 541.0 607.3 552.0 606.0C563.0 604.7 584.0 620.0 584.0 620.0" fill="none" stroke="#ef7468" stroke-width="10" stroke-linecap="round" stroke-linejoin="round" /><path d="M512.0 622.0C512.0 622.0 520.0 603.3 527.0 598.0C534.0 592.7 545.0 589.5 554.0 590.0C563.0 590.5 575.2 596.8 581.0 601.0C586.8 605.2 589.0 615.0 589.0 615.0" fill="none" stroke="#7a2226" stroke-width="12" stroke-linecap="round" stroke-linejoin="round" /><path d="M530.0 650.0L570.0 648.0" fill="none" stroke="#f58d73" stroke-width="6" stroke-linecap="round" stroke-linejoin="round" /></g>
<defs><linearGradient id="gs2" gradientUnits="userSpaceOnUse" x1="0" y1="700" x2="0" y2="1520"><stop offset="0" stop-color="#6596a2"/><stop offset="1" stop-color="#95b5bf"/></linearGradient><clipPath id="cl2"><use href="#blobp" transform="translate(24,15) scale(3)"/><rect x="-126" y="-285" width="1140" height="1020"/></clipPath></defs>
<g transform="translate(703,650) scale(0.33333)">
<polygon points="630,50 680,55 672,135" fill="#7ba6b1"/><polygon points="740,20 815,50 728,145" fill="#7ba6b1"/><polygon points="740,180 820,145 825,190" fill="#7ba6b1"/><g clip-path="url(#cl2)"><path d="M400.0 440.0C400.0 440.0 365.7 422.3 355.0 402.0C344.3 381.7 338.2 342.7 336.0 318.0C333.8 293.3 335.7 273.2 342.0 254.0C348.3 234.8 359.0 217.3 374.0 203.0C389.0 188.7 411.7 175.5 432.0 168.0C452.3 160.5 475.8 158.0 496.0 158.0C516.2 158.0 536.0 164.0 553.0 168.0C570.0 172.0 585.2 180.2 598.0 182.0C610.8 183.8 616.2 175.0 630.0 179.0C643.8 183.0 666.5 193.5 681.0 206.0C695.5 218.5 709.2 238.5 717.0 254.0C724.8 269.5 727.5 285.0 728.0 299.0C728.5 313.0 724.0 326.8 720.0 338.0C716.0 349.2 704.0 366.0 704.0 366.0C704.0 366.0 690.2 358.0 681.0 350.0C671.8 342.0 658.5 327.5 649.0 318.0C639.5 308.5 630.8 299.8 624.0 293.0C617.2 286.2 608.0 277.0 608.0 277.0L557.0 299.0L585.0 269.0C585.0 269.0 540.0 279.0 515.0 283.0C490.0 287.0 435.0 293.0 435.0 293.0C435.0 293.0 418.8 319.5 413.0 344.0C407.2 368.5 400.0 440.0 400.0 440.0Z" fill="#fff" stroke="#fff" stroke-width="22" stroke-linejoin="round"/><path d="M398.0 250.0L702.0 250.0C702.0 250.0 698.3 348.3 692.0 400.0C685.7 451.7 675.7 517.5 664.0 560.0C652.3 602.5 639.3 641.3 622.0 655.0C604.7 668.7 585.3 650.8 560.0 642.0C534.7 633.2 495.0 615.7 470.0 602.0C445.0 588.3 422.5 585.3 410.0 560.0C397.5 534.7 397.0 501.7 395.0 450.0C393.0 398.3 398.0 250.0 398.0 250.0Z" fill="#fff" stroke="#fff" stroke-width="22" stroke-linejoin="round"/><ellipse cx="365" cy="460" rx="32" ry="52" fill="#fff" stroke="#fff" stroke-width="22" stroke-linejoin="round"/><path d="M290.0 750.0C290.0 750.0 138.3 791.7 100.0 850.0C61.7 908.3 70.0 1025.0 60.0 1100.0C50.0 1175.0 40.0 1223.3 40.0 1300.0C40.0 1376.7 60.0 1560.0 60.0 1560.0L830.0 1560.0C830.0 1560.0 890.0 1388.3 900.0 1300.0C910.0 1211.7 906.7 1113.3 890.0 1030.0C873.3 946.7 843.3 851.3 800.0 800.0C756.7 748.7 630.0 722.0 630.0 722.0L520.0 800.0L290.0 750.0Z" fill="#fff" stroke="#fff" stroke-width="22" stroke-linejoin="round"/></g><g clip-path="url(#cl2)"><path d="M290.0 750.0C290.0 750.0 138.3 791.7 100.0 850.0C61.7 908.3 70.0 1025.0 60.0 1100.0C50.0 1175.0 40.0 1223.3 40.0 1300.0C40.0 1376.7 60.0 1560.0 60.0 1560.0L830.0 1560.0C830.0 1560.0 890.0 1388.3 900.0 1300.0C910.0 1211.7 906.7 1113.3 890.0 1030.0C873.3 946.7 843.3 851.3 800.0 800.0C756.7 748.7 630.0 722.0 630.0 722.0L520.0 800.0L290.0 750.0Z" fill="url(#gs2)" /><path d="M780.0 1230.0L805.0 1230.0L845.0 1560.0L800.0 1560.0L780.0 1230.0Z" fill="#cddbe2" /><path d="M290.0 750.0L345.0 715.0L455.0 860.0L520.0 815.0L595.0 835.0L600.0 712.0L632.0 725.0C632.0 725.0 613.7 825.5 602.0 900.0C590.3 974.5 562.0 1172.0 562.0 1172.0L520.0 1172.0C520.0 1172.0 438.3 1010.3 400.0 940.0C361.7 869.7 290.0 750.0 290.0 750.0Z" fill="#4a7c88" /><path d="M455.0 860.0L520.0 815.0L595.0 835.0C595.0 835.0 583.3 943.8 575.0 1000.0C566.7 1056.2 545.0 1172.0 545.0 1172.0L535.0 1172.0C535.0 1172.0 493.3 1012.0 480.0 960.0C466.7 908.0 455.0 860.0 455.0 860.0Z" fill="#457884" /><path d="M160.0 1290.0L600.0 1170.0L645.0 1322.0L210.0 1430.0L160.0 1290.0Z" fill="#7aa5af" /><path d="M160.0 1290.0L600.0 1170.0" fill="none" stroke="#5a8c98" stroke-width="17" stroke-linecap="round" stroke-linejoin="round" /><path d="M330.0 1432.0C330.0 1432.0 596.3 1359.5 648.0 1340.0C699.7 1320.5 648.3 1341.7 640.0 1315.0C631.7 1288.3 598.0 1180.0 598.0 1180.0" fill="none" stroke="#5a8c98" stroke-width="15" stroke-linecap="round" stroke-linejoin="round" /><path d="M230.0 1020.0C230.0 1020.0 211.7 1205.0 200.0 1250.0C188.3 1295.0 160.0 1290.0 160.0 1290.0" fill="none" stroke="#5a8c98" stroke-width="8" stroke-linecap="round" stroke-linejoin="round" /><path d="M205.0 1230.0L215.0 1305.0" fill="none" stroke="#5a8c98" stroke-width="10" stroke-linecap="round" stroke-linejoin="round" /></g><path d="M405.0 520.0L405.0 700.0L520.0 790.0L585.0 700.0L565.0 630.0L405.0 520.0Z" fill="#fca17f" /><path d="M405.0 560.0C405.0 560.0 443.3 588.3 470.0 602.0C496.7 615.7 565.0 642.0 565.0 642.0C565.0 642.0 590.8 678.7 575.0 680.0C559.2 681.3 498.3 656.7 470.0 650.0C441.7 643.3 405.0 640.0 405.0 640.0L405.0 560.0Z" fill="#f58d73" /><path d="M345.0 715.0L405.0 680.0L520.0 787.0L455.0 862.0L345.0 715.0Z" fill="#fff" /><path d="M520.0 787.0L582.0 698.0L592.0 832.0L520.0 787.0Z" fill="#fff" /><ellipse cx="365" cy="460" rx="32" ry="52" fill="#fca17f"/><path d="M355.0 435.0C355.0 435.0 375.5 452.5 378.0 462.0C380.5 471.5 370.0 492.0 370.0 492.0" fill="none" stroke="#f58d73" stroke-width="6" stroke-linecap="round" stroke-linejoin="round" /><path d="M398.0 250.0L702.0 250.0C702.0 250.0 698.3 348.3 692.0 400.0C685.7 451.7 675.7 517.5 664.0 560.0C652.3 602.5 639.3 641.3 622.0 655.0C604.7 668.7 585.3 650.8 560.0 642.0C534.7 633.2 495.0 615.7 470.0 602.0C445.0 588.3 422.5 585.3 410.0 560.0C397.5 534.7 397.0 501.7 395.0 450.0C393.0 398.3 398.0 250.0 398.0 250.0Z" fill="#fca17f" /><path d="M400.0 440.0C400.0 440.0 365.7 422.3 355.0 402.0C344.3 381.7 338.2 342.7 336.0 318.0C333.8 293.3 335.7 273.2 342.0 254.0C348.3 234.8 359.0 217.3 374.0 203.0C389.0 188.7 411.7 175.5 432.0 168.0C452.3 160.5 475.8 158.0 496.0 158.0C516.2 158.0 536.0 164.0 553.0 168.0C570.0 172.0 585.2 180.2 598.0 182.0C610.8 183.8 616.2 175.0 630.0 179.0C643.8 183.0 666.5 193.5 681.0 206.0C695.5 218.5 709.2 238.5 717.0 254.0C724.8 269.5 727.5 285.0 728.0 299.0C728.5 313.0 724.0 326.8 720.0 338.0C716.0 349.2 704.0 366.0 704.0 366.0C704.0 366.0 690.2 358.0 681.0 350.0C671.8 342.0 658.5 327.5 649.0 318.0C639.5 308.5 630.8 299.8 624.0 293.0C617.2 286.2 608.0 277.0 608.0 277.0L557.0 299.0L585.0 269.0C585.0 269.0 540.0 279.0 515.0 283.0C490.0 287.0 435.0 293.0 435.0 293.0C435.0 293.0 418.8 319.5 413.0 344.0C407.2 368.5 400.0 440.0 400.0 440.0Z" fill="#111416" /><ellipse cx="497" cy="420" rx="17" ry="30" fill="#111416"/><ellipse cx="643" cy="450" rx="14" ry="24" fill="#111416"/><path d="M460.0 322.0C460.0 322.0 501.5 321.8 515.0 325.0C528.5 328.2 538.5 334.8 541.0 341.0C543.5 347.2 530.0 362.0 530.0 362.0C530.0 362.0 507.7 350.7 496.0 344.0C484.3 337.3 460.0 322.0 460.0 322.0Z" fill="#3a3f43" /><path d="M633.0 376.0C633.0 376.0 637.3 366.0 646.0 363.0C654.7 360.0 685.0 358.0 685.0 358.0C685.0 358.0 677.0 368.3 669.0 373.0C661.0 377.7 637.0 386.0 637.0 386.0L633.0 376.0Z" fill="#3a3f43" /><path d="M590.0 405.0L598.0 512.0L560.0 502.0L590.0 405.0Z" fill="#f6866d" /><path d="M499.0 533.0C500.0 525.0 508.0 512.2 515.0 510.0C522.0 507.8 532.5 517.5 541.0 520.0C549.5 522.5 558.0 520.2 566.0 525.0C574.0 529.8 586.8 541.8 589.0 549.0C591.2 556.2 584.3 564.8 579.0 568.0C573.7 571.2 564.5 567.0 557.0 568.0C549.5 569.0 542.0 575.7 534.0 574.0C526.0 572.3 514.8 564.8 509.0 558.0C503.2 551.2 498.0 541.0 499.0 533.0Z" fill="#2b1516" /><path d="M506.0 540.0C508.2 535.7 518.0 529.2 525.0 530.0C532.0 530.8 543.5 539.0 548.0 545.0C552.5 551.0 555.0 561.8 552.0 566.0C549.0 570.2 536.7 571.7 530.0 570.0C523.3 568.3 516.0 561.0 512.0 556.0C508.0 551.0 503.8 544.3 506.0 540.0Z" fill="#cf5f6a" /><path d="M590.0 1176.0C590.0 1176.0 621.7 1176.0 640.0 1160.0C658.3 1144.0 676.7 1099.2 700.0 1080.0C723.3 1060.8 758.0 1052.8 780.0 1045.0C802.0 1037.2 822.3 1032.2 832.0 1033.0C841.7 1033.8 853.0 1038.8 838.0 1050.0C823.0 1061.2 742.0 1100.0 742.0 1100.0C742.0 1100.0 765.7 1113.3 785.0 1120.0C804.3 1126.7 844.5 1123.0 858.0 1140.0C871.5 1157.0 875.7 1206.7 866.0 1222.0C856.3 1237.3 817.7 1220.3 800.0 1232.0C782.3 1243.7 777.2 1280.3 760.0 1292.0C742.8 1303.7 716.2 1297.0 697.0 1302.0C677.8 1307.0 645.0 1322.0 645.0 1322.0L590.0 1176.0Z" fill="#fca17f" /><path d="M590.0 1176.0L640.0 1160.0L697.0 1300.0L645.0 1322.0L590.0 1176.0Z" fill="#fff" /><path d="M790.0 1165.0L850.0 1170.0" fill="none" stroke="#e05a4e" stroke-width="7" stroke-linecap="round" stroke-linejoin="round" /><path d="M800.0 1200.0L855.0 1202.0" fill="none" stroke="#e05a4e" stroke-width="7" stroke-linecap="round" stroke-linejoin="round" /><path d="M1200.0 180.0C1231.7 180.8 1286.7 183.3 1320.0 200.0C1353.3 216.7 1380.0 246.7 1400.0 280.0C1420.0 313.3 1428.3 366.7 1440.0 400.0C1451.7 433.3 1455.0 454.2 1470.0 480.0C1485.0 505.8 1530.0 555.0 1530.0 555.0C1530.0 555.0 1478.3 620.5 1450.0 640.0C1421.7 659.5 1398.3 663.3 1360.0 672.0C1321.7 680.7 1263.3 683.7 1220.0 692.0C1176.7 700.3 1130.0 716.3 1100.0 722.0C1070.0 727.7 1060.8 731.3 1040.0 726.0C1019.2 720.7 975.0 690.0 975.0 690.0C975.0 690.0 1002.2 661.7 1010.0 640.0C1017.8 618.3 1022.8 591.7 1022.0 560.0C1021.2 528.3 1007.0 485.0 1005.0 450.0C1003.0 415.0 1000.8 383.3 1010.0 350.0C1019.2 316.7 1040.0 275.8 1060.0 250.0C1080.0 224.2 1106.7 206.7 1130.0 195.0C1153.3 183.3 1168.3 179.2 1200.0 180.0Z" fill="#111416" /><g clip-path="url(#cl2)"><path d="M940.0 790.0C967.5 753.7 1085.0 732.0 1085.0 732.0C1085.0 732.0 1034.2 798.7 1020.0 830.0C1005.8 861.3 1000.0 885.0 1000.0 920.0C1000.0 955.0 1011.3 1001.7 1020.0 1040.0C1028.7 1078.3 1049.0 1106.7 1052.0 1150.0C1055.0 1193.3 1045.8 1231.7 1038.0 1300.0C1030.2 1368.3 1005.0 1560.0 1005.0 1560.0L830.0 1560.0C830.0 1560.0 855.0 1301.7 870.0 1200.0C885.0 1098.3 908.3 1018.3 920.0 950.0C931.7 881.7 912.5 826.3 940.0 790.0Z" fill="#38666f" /><path d="M1440.0 700.0L1582.0 750.0C1582.0 750.0 1612.0 838.3 1625.0 880.0C1638.0 921.7 1660.0 1000.0 1660.0 1000.0L1560.0 1320.0L1368.0 1320.0C1368.0 1320.0 1387.7 1093.3 1400.0 1000.0C1412.3 906.7 1435.3 810.0 1442.0 760.0C1448.7 710.0 1440.0 700.0 1440.0 700.0Z" fill="#38666f" /><path d="M1082.0 738.0C1100.7 719.3 1132.0 718.0 1132.0 718.0C1132.0 718.0 1137.0 771.0 1160.0 790.0C1183.0 809.0 1230.0 830.3 1270.0 832.0C1310.0 833.7 1371.7 822.0 1400.0 800.0C1428.3 778.0 1440.0 700.0 1440.0 700.0C1440.0 700.0 1448.7 710.0 1442.0 760.0C1435.3 810.0 1412.3 910.0 1400.0 1000.0C1387.7 1090.0 1374.7 1206.7 1368.0 1300.0C1361.3 1393.3 1360.0 1560.0 1360.0 1560.0L1005.0 1560.0C1005.0 1560.0 1030.2 1368.3 1038.0 1300.0C1045.8 1231.7 1055.0 1193.3 1052.0 1150.0C1049.0 1106.7 1028.7 1078.3 1020.0 1040.0C1011.3 1001.7 1000.0 955.0 1000.0 920.0C1000.0 885.0 1006.3 860.3 1020.0 830.0C1033.7 799.7 1063.3 756.7 1082.0 738.0Z" fill="url(#gs2)" /></g><path d="M1215.0 630.0L1332.0 555.0C1332.0 555.0 1334.0 635.8 1352.0 660.0C1370.0 684.2 1440.0 700.0 1440.0 700.0C1440.0 700.0 1428.3 770.0 1400.0 790.0C1371.7 810.0 1309.2 821.3 1270.0 820.0C1230.8 818.7 1187.5 798.7 1165.0 782.0C1142.5 765.3 1135.0 720.0 1135.0 720.0C1135.0 720.0 1198.7 707.0 1212.0 692.0C1225.3 677.0 1215.0 630.0 1215.0 630.0Z" fill="#fca17f" stroke="#5b8e9a" stroke-width="26" stroke-linejoin="round"/><path d="M1215.0 600.0L1345.0 530.0C1345.0 530.0 1359.5 633.3 1352.0 660.0C1344.5 686.7 1323.3 684.7 1300.0 690.0C1276.7 695.3 1212.0 692.0 1212.0 692.0L1215.0 600.0Z" fill="#fca17f" /><path d="M1222.0 645.0L1335.0 575.0C1335.0 575.0 1354.2 630.8 1345.0 650.0C1335.8 669.2 1302.2 683.0 1280.0 690.0C1257.8 697.0 1212.0 692.0 1212.0 692.0L1222.0 645.0Z" fill="#f58d73" /><path d="M1050.0 300.0L1335.0 290.0C1335.0 290.0 1344.2 438.3 1342.0 480.0C1339.8 521.7 1335.3 519.7 1322.0 540.0C1308.7 560.3 1285.7 585.0 1262.0 602.0C1238.3 619.0 1205.3 638.7 1180.0 642.0C1154.7 645.3 1130.0 635.7 1110.0 622.0C1090.0 608.3 1070.8 583.7 1060.0 560.0C1049.2 536.3 1046.7 523.3 1045.0 480.0C1043.3 436.7 1050.0 300.0 1050.0 300.0Z" fill="#fca17f" /><ellipse cx="1357" cy="482" rx="28" ry="45" fill="#fca17f"/><path d="M1350.0 460.0C1350.0 460.0 1364.7 476.0 1366.0 484.0C1367.3 492.0 1358.0 508.0 1358.0 508.0" fill="none" stroke="#f58d73" stroke-width="5" stroke-linecap="round" stroke-linejoin="round" /><path d="M1043.7 316.0L1047.0 284.0L1352.0 258.0L1375.0 450.0C1375.0 450.0 1353.5 432.0 1345.0 415.0C1336.5 398.0 1324.0 348.0 1324.0 348.0C1324.0 348.0 1302.4 350.8 1289.0 345.5C1275.6 340.2 1243.8 316.0 1243.8 316.0L1267.8 350.8C1267.8 350.8 1254.3 355.7 1241.0 353.5C1227.7 351.3 1204.7 346.4 1187.8 337.5C1170.9 328.6 1139.8 300.0 1139.8 300.0L1166.4 345.5C1166.4 345.5 1143.2 353.9 1129.0 353.5C1114.8 353.1 1095.2 349.1 1081.0 342.8C1066.8 336.6 1043.7 316.0 1043.7 316.0Z" fill="#111416" /><path d="M1050.0 440.0C1050.0 440.0 1068.8 412.0 1078.0 405.0C1087.2 398.0 1105.0 398.0 1105.0 398.0" fill="none" stroke="#2a2e31" stroke-width="13" stroke-linecap="round" stroke-linejoin="round" /><path d="M1175.0 393.0C1175.0 393.0 1203.3 387.2 1215.0 392.0C1226.7 396.8 1245.0 422.0 1245.0 422.0" fill="none" stroke="#2a2e31" stroke-width="13" stroke-linecap="round" stroke-linejoin="round" /><path d="M1055.0 478.0C1055.0 478.0 1075.8 489.0 1085.0 488.0C1094.2 487.0 1110.0 472.0 1110.0 472.0" fill="none" stroke="#1f2326" stroke-width="6" stroke-linecap="round" stroke-linejoin="round" /><path d="M1180.0 462.0C1180.0 462.0 1203.3 475.7 1215.0 475.0C1226.7 474.3 1250.0 458.0 1250.0 458.0" fill="none" stroke="#1f2326" stroke-width="6" stroke-linecap="round" stroke-linejoin="round" /><path d="M1140.0 450.0C1140.0 450.0 1126.0 500.3 1128.0 512.0C1130.0 523.7 1152.0 520.0 1152.0 520.0" fill="none" stroke="#e26f5a" stroke-width="6" stroke-linecap="round" stroke-linejoin="round" /><path d="M1172.0 580.0C1172.0 580.0 1190.7 563.3 1200.0 562.0C1209.3 560.7 1228.0 572.0 1228.0 572.0" fill="none" stroke="#ef7468" stroke-width="10" stroke-linecap="round" stroke-linejoin="round" /><path d="M1163.0 574.0C1163.0 574.0 1172.5 555.7 1180.0 550.0C1187.5 544.3 1198.3 538.3 1208.0 540.0C1217.7 541.7 1238.0 560.0 1238.0 560.0" fill="none" stroke="#7a2226" stroke-width="13" stroke-linecap="round" stroke-linejoin="round" /><path d="M1185.0 602.0L1220.0 598.0" fill="none" stroke="#f58d73" stroke-width="6" stroke-linecap="round" stroke-linejoin="round" /></g>
<defs><linearGradient id="gs3" gradientUnits="userSpaceOnUse" x1="0" y1="700" x2="0" y2="1520"><stop offset="0" stop-color="#6596a2"/><stop offset="1" stop-color="#98b8c1"/></linearGradient><clipPath id="cl3"><use href="#blobp" transform="translate(24,15) scale(3)"/><rect x="-126" y="-285" width="1140" height="1020"/></clipPath></defs>
<g transform="translate(1276,650) scale(0.33333)">
<g clip-path="url(#cl3)"><path d="M346.0 462.0C346.0 462.0 315.2 447.0 307.0 427.0C298.8 407.0 294.8 369.7 297.0 342.0C299.2 314.3 307.7 283.0 320.0 261.0C332.3 239.0 350.3 221.3 371.0 210.0C391.7 198.7 419.0 193.8 444.0 193.0C469.0 192.2 501.2 198.7 521.0 205.0C540.8 211.3 550.2 227.0 563.0 231.0C575.8 235.0 583.7 224.0 598.0 229.0C612.3 234.0 634.2 245.7 649.0 261.0C663.8 276.3 680.0 302.5 687.0 321.0C694.0 339.5 695.2 354.2 691.0 372.0C686.8 389.8 662.0 428.0 662.0 428.0C662.0 428.0 632.5 412.8 621.0 402.0C609.5 391.2 600.5 374.8 593.0 363.0C585.5 351.2 576.0 331.0 576.0 331.0L519.0 345.0L551.0 314.0C551.0 314.0 503.7 318.3 478.0 321.0C452.3 323.7 397.0 330.0 397.0 330.0C397.0 330.0 371.5 367.0 363.0 389.0C354.5 411.0 346.0 462.0 346.0 462.0Z" fill="#fff" stroke="#fff" stroke-width="22" stroke-linejoin="round"/><path d="M358.0 290.0L652.0 290.0C652.0 290.0 653.7 395.0 652.0 440.0C650.3 485.0 650.3 519.7 642.0 560.0C633.7 600.3 615.7 661.0 602.0 682.0C588.3 703.0 587.0 694.3 560.0 686.0C533.0 677.7 472.3 651.0 440.0 632.0C407.7 613.0 380.2 602.3 366.0 572.0C351.8 541.7 356.3 497.0 355.0 450.0C353.7 403.0 358.0 290.0 358.0 290.0Z" fill="#fff" stroke="#fff" stroke-width="22" stroke-linejoin="round"/><ellipse cx="322" cy="495" rx="32" ry="52" fill="#fff" stroke="#fff" stroke-width="22" stroke-linejoin="round"/><path d="M330.0 700.0C374.2 680.7 365.0 684.0 365.0 684.0C365.0 684.0 488.8 727.0 520.0 740.0C551.2 753.0 522.0 740.3 552.0 762.0C582.0 783.7 666.7 830.3 700.0 870.0C733.3 909.7 740.0 945.0 752.0 1000.0C764.0 1055.0 764.0 1106.7 772.0 1200.0C780.0 1293.3 800.0 1560.0 800.0 1560.0L-20.0 1560.0C-20.0 1560.0 -8.3 1206.7 0.0 1100.0C8.3 993.3 13.3 970.0 30.0 920.0C46.7 870.0 50.0 836.7 100.0 800.0C150.0 763.3 285.8 719.3 330.0 700.0Z" fill="#fff" stroke="#fff" stroke-width="22" stroke-linejoin="round"/></g><g clip-path="url(#cl3)"><path d="M890.0 1150.0C913.3 1152.5 978.0 1210.0 990.0 1235.0C1002.0 1260.0 972.8 1272.5 962.0 1300.0C951.2 1327.5 934.5 1356.7 925.0 1400.0C915.5 1443.3 905.0 1560.0 905.0 1560.0L795.0 1560.0C795.0 1560.0 798.8 1406.7 808.0 1350.0C817.2 1293.3 836.3 1253.3 850.0 1220.0C863.7 1186.7 866.7 1147.5 890.0 1150.0Z" fill="#fca17f" /><path d="M905.0 1250.0C913.3 1248.3 940.5 1281.7 950.0 1290.0C959.5 1298.3 962.0 1300.0 962.0 1300.0C962.0 1300.0 950.3 1340.0 940.0 1340.0C929.7 1340.0 905.8 1315.0 900.0 1300.0C894.2 1285.0 896.7 1251.7 905.0 1250.0Z" fill="#f58d73" opacity="0.7"/><path d="M330.0 700.0C374.2 680.7 365.0 684.0 365.0 684.0C365.0 684.0 488.8 727.0 520.0 740.0C551.2 753.0 522.0 740.3 552.0 762.0C582.0 783.7 666.7 830.3 700.0 870.0C733.3 909.7 740.0 945.0 752.0 1000.0C764.0 1055.0 764.0 1106.7 772.0 1200.0C780.0 1293.3 800.0 1560.0 800.0 1560.0L-20.0 1560.0C-20.0 1560.0 -8.3 1206.7 0.0 1100.0C8.3 993.3 13.3 970.0 30.0 920.0C46.7 870.0 50.0 836.7 100.0 800.0C150.0 763.3 285.8 719.3 330.0 700.0Z" fill="url(#gs3)" /><path d="M350.0 1180.0L505.0 1262.0L330.0 1560.0L140.0 1560.0L350.0 1180.0Z" fill="#a6c1c9" opacity="0.3"/><path d="M190.0 1100.0L198.0 1420.0" fill="none" stroke="#5a8c98" stroke-width="10" stroke-linecap="round" stroke-linejoin="round" /><path d="M752.0 1000.0C752.0 1000.0 764.8 1110.0 772.0 1200.0C779.2 1290.0 795.0 1540.0 795.0 1540.0" fill="none" stroke="#5a8c98" stroke-width="10" stroke-linecap="round" stroke-linejoin="round" /><path d="M365.0 722.0L369.0 752.0" fill="none" stroke="#4f828e" stroke-width="7" stroke-linecap="round" stroke-linejoin="round" /><path d="M392.0 732.0L396.0 762.0" fill="none" stroke="#4f828e" stroke-width="7" stroke-linecap="round" stroke-linejoin="round" /><path d="M419.0 742.0L423.0 772.0" fill="none" stroke="#4f828e" stroke-width="7" stroke-linecap="round" stroke-linejoin="round" /><path d="M446.0 752.0L450.0 782.0" fill="none" stroke="#4f828e" stroke-width="7" stroke-linecap="round" stroke-linejoin="round" /><path d="M473.0 762.0L477.0 792.0" fill="none" stroke="#4f828e" stroke-width="7" stroke-linecap="round" stroke-linejoin="round" /><path d="M500.0 772.0L504.0 802.0" fill="none" stroke="#4f828e" stroke-width="7" stroke-linecap="round" stroke-linejoin="round" /><path d="M527.0 782.0L531.0 812.0" fill="none" stroke="#4f828e" stroke-width="7" stroke-linecap="round" stroke-linejoin="round" /><path d="M340.0 748.0C340.0 748.0 405.8 764.3 440.0 775.0C474.2 785.7 545.0 812.0 545.0 812.0" fill="none" stroke="#4f828e" stroke-width="7" stroke-linecap="round" stroke-linejoin="round" /></g><path d="M365.0 540.0L365.0 692.0L520.0 745.0L560.0 680.0L365.0 540.0Z" fill="#fca17f" /><path d="M365.0 575.0C365.0 575.0 407.5 613.5 440.0 632.0C472.5 650.5 560.0 686.0 560.0 686.0C560.0 686.0 568.0 706.0 548.0 705.0C528.0 704.0 470.5 689.2 440.0 680.0C409.5 670.8 365.0 650.0 365.0 650.0L365.0 575.0Z" fill="#f58d73" /><ellipse cx="322" cy="495" rx="32" ry="52" fill="#fca17f"/><path d="M312.0 470.0C312.0 470.0 332.5 488.3 335.0 498.0C337.5 507.7 327.0 528.0 327.0 528.0" fill="none" stroke="#f58d73" stroke-width="6" stroke-linecap="round" stroke-linejoin="round" /><path d="M358.0 290.0L652.0 290.0C652.0 290.0 653.7 395.0 652.0 440.0C650.3 485.0 650.3 519.7 642.0 560.0C633.7 600.3 615.7 661.0 602.0 682.0C588.3 703.0 587.0 694.3 560.0 686.0C533.0 677.7 472.3 651.0 440.0 632.0C407.7 613.0 380.2 602.3 366.0 572.0C351.8 541.7 356.3 497.0 355.0 450.0C353.7 403.0 358.0 290.0 358.0 290.0Z" fill="#fca17f" /><path d="M346.0 462.0C346.0 462.0 315.2 447.0 307.0 427.0C298.8 407.0 294.8 369.7 297.0 342.0C299.2 314.3 307.7 283.0 320.0 261.0C332.3 239.0 350.3 221.3 371.0 210.0C391.7 198.7 419.0 193.8 444.0 193.0C469.0 192.2 501.2 198.7 521.0 205.0C540.8 211.3 550.2 227.0 563.0 231.0C575.8 235.0 583.7 224.0 598.0 229.0C612.3 234.0 634.2 245.7 649.0 261.0C663.8 276.3 680.0 302.5 687.0 321.0C694.0 339.5 695.2 354.2 691.0 372.0C686.8 389.8 662.0 428.0 662.0 428.0C662.0 428.0 632.5 412.8 621.0 402.0C609.5 391.2 600.5 374.8 593.0 363.0C585.5 351.2 576.0 331.0 576.0 331.0L519.0 345.0L551.0 314.0C551.0 314.0 503.7 318.3 478.0 321.0C452.3 323.7 397.0 330.0 397.0 330.0C397.0 330.0 371.5 367.0 363.0 389.0C354.5 411.0 346.0 462.0 346.0 462.0Z" fill="#111416" /><path d="M436.0 456.0C436.0 456.0 457.7 471.3 470.0 472.0C482.3 472.7 510.0 460.0 510.0 460.0" fill="none" stroke="#1f2326" stroke-width="6" stroke-linecap="round" stroke-linejoin="round" /><path d="M585.0 480.0C585.0 480.0 601.5 491.0 610.0 491.0C618.5 491.0 636.0 480.0 636.0 480.0" fill="none" stroke="#1f2326" stroke-width="6" stroke-linecap="round" stroke-linejoin="round" /><path d="M461.0 411.0C461.0 411.0 487.7 393.7 499.0 389.0C510.3 384.3 529.0 383.0 529.0 383.0" fill="none" stroke="#3a3f43" stroke-width="15" stroke-linecap="round" stroke-linejoin="round" /><path d="M594.0 394.0C594.0 394.0 601.8 408.3 606.0 414.0C610.2 419.7 619.0 428.0 619.0 428.0" fill="none" stroke="#3a3f43" stroke-width="15" stroke-linecap="round" stroke-linejoin="round" /><path d="M565.0 445.0C559.7 447.5 552.2 490.8 548.0 505.0C543.8 519.2 537.2 522.2 540.0 530.0C542.8 537.8 556.3 552.0 565.0 552.0C573.7 552.0 589.5 540.3 592.0 530.0C594.5 519.7 584.5 504.2 580.0 490.0C575.5 475.8 570.3 442.5 565.0 445.0Z" fill="#f58572" /><path d="M552.0 505.0C552.0 505.0 566.0 518.8 572.0 520.0C578.0 521.2 588.0 512.0 588.0 512.0" fill="none" stroke="#e26f5a" stroke-width="5" stroke-linecap="round" stroke-linejoin="round" /><path d="M472.0 586.0C472.0 586.0 505.7 578.0 518.0 580.0C530.3 582.0 546.0 598.0 546.0 598.0" fill="none" stroke="#b4493e" stroke-width="6" stroke-linecap="round" stroke-linejoin="round" /><path d="M490.0 612.0L530.0 615.0" fill="none" stroke="#f58d73" stroke-width="5" stroke-linecap="round" stroke-linejoin="round" /><path d="M377.0 975.0C381.2 964.2 386.2 964.2 397.0 975.0C407.8 985.8 442.0 1040.0 442.0 1040.0C442.0 1040.0 512.8 941.7 532.0 920.0C551.2 898.3 551.2 907.5 557.0 910.0C562.8 912.5 572.8 916.3 567.0 935.0C561.2 953.7 522.0 1022.0 522.0 1022.0C522.0 1022.0 572.8 974.5 587.0 965.0C601.2 955.5 602.8 960.8 607.0 965.0C611.2 969.2 620.2 975.5 612.0 990.0C603.8 1004.5 558.0 1052.0 558.0 1052.0C558.0 1052.0 608.0 1006.2 622.0 1000.0C636.0 993.8 648.7 1001.7 642.0 1015.0C635.3 1028.3 593.7 1064.2 582.0 1080.0C570.3 1095.8 578.7 1095.0 572.0 1110.0C565.3 1125.0 555.3 1146.7 542.0 1170.0C528.7 1193.3 517.8 1245.0 492.0 1250.0C466.2 1255.0 400.3 1215.0 387.0 1200.0C373.7 1185.0 412.8 1175.0 412.0 1160.0C411.2 1145.0 388.7 1130.0 382.0 1110.0C375.3 1090.0 372.8 1062.5 372.0 1040.0C371.2 1017.5 372.8 985.8 377.0 975.0Z" fill="#fca17f" /><path d="M597.0 975.0L580.0 995.0" fill="none" stroke="#e0584c" stroke-width="9" stroke-linecap="round" stroke-linejoin="round" /><path d="M630.0 1010.0L612.0 1030.0" fill="none" stroke="#e0584c" stroke-width="9" stroke-linecap="round" stroke-linejoin="round" /><path d="M1230.0 200.0C1270.0 199.2 1316.7 208.3 1350.0 225.0C1383.3 241.7 1410.8 267.5 1430.0 300.0C1449.2 332.5 1455.0 376.7 1465.0 420.0C1475.0 463.3 1476.7 520.0 1490.0 560.0C1503.3 600.0 1545.0 660.0 1545.0 660.0C1545.0 660.0 1504.2 701.0 1480.0 712.0C1455.8 723.0 1430.0 722.7 1400.0 726.0C1370.0 729.3 1336.7 730.3 1300.0 732.0C1263.3 733.7 1216.7 730.3 1180.0 736.0C1143.3 741.7 1110.0 766.0 1080.0 766.0C1050.0 766.0 1024.2 748.7 1000.0 736.0C975.8 723.3 935.0 690.0 935.0 690.0C935.0 690.0 972.5 655.0 985.0 630.0C997.5 605.0 1005.8 575.0 1010.0 540.0C1014.2 505.0 1005.0 458.3 1010.0 420.0C1015.0 381.7 1023.3 341.7 1040.0 310.0C1056.7 278.3 1078.3 248.3 1110.0 230.0C1141.7 211.7 1190.0 200.8 1230.0 200.0Z" fill="#111416" /><g clip-path="url(#cl3)"><path d="M1150.0 830.0C1166.7 825.0 1170.0 866.7 1200.0 870.0C1230.0 873.3 1302.5 863.3 1330.0 850.0C1357.5 836.7 1365.0 790.0 1365.0 790.0C1365.0 790.0 1320.8 971.7 1300.0 1100.0C1279.2 1228.3 1240.0 1560.0 1240.0 1560.0L990.0 1560.0C990.0 1560.0 1041.7 1210.0 1060.0 1100.0C1078.3 990.0 1085.0 945.0 1100.0 900.0C1115.0 855.0 1133.3 835.0 1150.0 830.0Z" fill="url(#gs3)" /><path d="M1195.0 738.0C1195.0 738.0 1100.8 786.3 1060.0 830.0C1019.2 873.7 978.3 946.7 950.0 1000.0C921.7 1053.3 890.0 1150.0 890.0 1150.0L990.0 1235.0C990.0 1235.0 972.8 1272.5 962.0 1300.0C951.2 1327.5 937.0 1356.7 925.0 1400.0C913.0 1443.3 890.0 1560.0 890.0 1560.0L1000.0 1560.0C1000.0 1560.0 1039.7 1293.3 1050.0 1200.0C1060.3 1106.7 1048.7 1055.0 1062.0 1000.0C1075.3 945.0 1114.5 898.3 1130.0 870.0C1145.5 841.7 1155.0 830.0 1155.0 830.0L1195.0 738.0Z" fill="#38666f" /><path d="M1365.0 735.0L1632.0 850.0C1632.0 850.0 1590.3 966.7 1560.0 1050.0C1529.7 1133.3 1450.0 1350.0 1450.0 1350.0L1340.0 1282.0C1340.0 1282.0 1288.7 1227.0 1282.0 1180.0C1275.3 1133.0 1286.7 1063.3 1300.0 1000.0C1313.3 936.7 1351.2 844.2 1362.0 800.0C1372.8 755.8 1365.0 735.0 1365.0 735.0Z" fill="#38666f" /><path d="M1100.0 1215.0C1100.0 1215.0 1121.7 1222.5 1130.0 1222.0C1138.3 1221.5 1150.0 1212.0 1150.0 1212.0" fill="none" stroke="#4f828e" stroke-width="6" stroke-linecap="round" stroke-linejoin="round" /></g><path d="M1215.0 660.0L1340.0 590.0L1370.0 740.0C1370.0 740.0 1368.7 781.7 1362.0 800.0C1355.3 818.3 1357.0 838.3 1330.0 850.0C1303.0 861.7 1230.0 873.3 1200.0 870.0C1170.0 866.7 1150.0 830.0 1150.0 830.0C1150.0 830.0 1181.2 768.3 1192.0 740.0C1202.8 711.7 1215.0 660.0 1215.0 660.0Z" fill="#fca17f" /><path d="M1218.0 690.0L1345.0 610.0C1345.0 610.0 1369.2 678.3 1360.0 700.0C1350.8 721.7 1317.5 732.5 1290.0 740.0C1262.5 747.5 1195.0 745.0 1195.0 745.0L1218.0 690.0Z" fill="#f58d73" /><path d="M1065.0 310.0L1355.0 310.0C1355.0 310.0 1362.5 395.0 1362.0 440.0C1361.5 485.0 1362.3 546.3 1352.0 580.0C1341.7 613.7 1320.3 623.3 1300.0 642.0C1279.7 660.7 1253.3 685.3 1230.0 692.0C1206.7 698.7 1181.7 694.0 1160.0 682.0C1138.3 670.0 1115.0 647.0 1100.0 620.0C1085.0 593.0 1075.8 571.7 1070.0 520.0C1064.2 468.3 1065.0 310.0 1065.0 310.0Z" fill="#fca17f" /><ellipse cx="1377" cy="552" rx="28" ry="45" fill="#fca17f"/><path d="M1370.0 530.0C1370.0 530.0 1384.7 546.0 1386.0 554.0C1387.3 562.0 1378.0 578.0 1378.0 578.0" fill="none" stroke="#f58d73" stroke-width="5" stroke-linecap="round" stroke-linejoin="round" /><path d="M1070.7 338.0L1055.0 280.0L1368.0 280.0L1396.0 520.0C1396.0 520.0 1375.5 495.0 1368.0 470.0C1360.5 445.0 1351.0 370.0 1351.0 370.0C1351.0 370.0 1329.4 372.8 1316.0 367.5C1302.6 362.2 1270.8 338.0 1270.8 338.0L1294.8 372.8C1294.8 372.8 1281.3 377.7 1268.0 375.5C1254.7 373.3 1231.7 368.4 1214.8 359.5C1197.9 350.6 1166.8 322.0 1166.8 322.0L1193.4 367.5C1193.4 367.5 1170.2 375.9 1156.0 375.5C1141.8 375.1 1122.2 371.1 1108.0 364.8C1093.8 358.6 1070.7 338.0 1070.7 338.0Z" fill="#111416" /><path d="M1076.0 440.0C1076.0 440.0 1094.0 414.3 1102.0 408.0C1110.0 401.7 1124.0 402.0 1124.0 402.0" fill="none" stroke="#2a2e31" stroke-width="13" stroke-linecap="round" stroke-linejoin="round" /><path d="M1199.0 402.0C1199.0 402.0 1225.3 405.8 1236.0 413.0C1246.7 420.2 1263.0 445.0 1263.0 445.0" fill="none" stroke="#2a2e31" stroke-width="13" stroke-linecap="round" stroke-linejoin="round" /><path d="M1072.0 495.0C1072.0 495.0 1092.3 505.8 1102.0 505.0C1111.7 504.2 1130.0 490.0 1130.0 490.0" fill="none" stroke="#1f2326" stroke-width="6" stroke-linecap="round" stroke-linejoin="round" /><path d="M1205.0 485.0C1205.0 485.0 1228.3 497.8 1240.0 497.0C1251.7 496.2 1275.0 480.0 1275.0 480.0" fill="none" stroke="#1f2326" stroke-width="6" stroke-linecap="round" stroke-linejoin="round" /><path d="M1160.0 480.0C1160.0 480.0 1144.3 533.0 1146.0 545.0C1147.7 557.0 1170.0 552.0 1170.0 552.0" fill="none" stroke="#e26f5a" stroke-width="6" stroke-linecap="round" stroke-linejoin="round" /><path d="M1165.0 612.0C1165.0 612.0 1186.8 593.3 1198.0 592.0C1209.2 590.7 1232.0 604.0 1232.0 604.0" fill="none" stroke="#ef7468" stroke-width="10" stroke-linecap="round" stroke-linejoin="round" /><path d="M1153.0 606.0C1153.0 606.0 1163.8 587.7 1172.0 582.0C1180.2 576.3 1190.3 569.7 1202.0 572.0C1213.7 574.3 1242.0 596.0 1242.0 596.0" fill="none" stroke="#7a2226" stroke-width="14" stroke-linecap="round" stroke-linejoin="round" /><path d="M1182.0 640.0L1220.0 636.0" fill="none" stroke="#f58d73" stroke-width="6" stroke-linecap="round" stroke-linejoin="round" /><g clip-path="url(#cl3)"><path d="M1020.0 1020.0C1014.2 1000.8 1033.3 984.7 1045.0 985.0C1056.7 985.3 1090.0 1022.0 1090.0 1022.0C1090.0 1022.0 1087.3 958.0 1090.0 940.0C1092.7 922.0 1096.0 905.7 1106.0 914.0C1116.0 922.3 1134.3 969.0 1150.0 990.0C1165.7 1011.0 1185.0 1033.3 1200.0 1040.0C1215.0 1046.7 1240.0 1030.0 1240.0 1030.0C1240.0 1030.0 1248.3 979.2 1255.0 970.0C1261.7 960.8 1274.8 960.0 1280.0 975.0C1285.2 990.0 1287.7 1030.8 1286.0 1060.0C1284.3 1089.2 1270.7 1130.0 1270.0 1150.0C1269.3 1170.0 1270.3 1158.0 1282.0 1180.0C1293.7 1202.0 1323.7 1253.7 1340.0 1282.0C1356.3 1310.3 1380.0 1350.0 1380.0 1350.0L1250.0 1400.0C1250.0 1400.0 1223.3 1325.0 1210.0 1290.0C1196.7 1255.0 1191.7 1221.7 1170.0 1190.0C1148.3 1158.3 1105.0 1128.3 1080.0 1100.0C1055.0 1071.7 1025.8 1039.2 1020.0 1020.0Z" fill="#fca17f" /></g><path d="M1040.0 1000.0L1065.0 1030.0" fill="none" stroke="#d9493e" stroke-width="7" stroke-linecap="round" stroke-linejoin="round" /><path d="M1065.0 990.0L1085.0 1020.0" fill="none" stroke="#d9493e" stroke-width="7" stroke-linecap="round" stroke-linejoin="round" /></g>
<defs><linearGradient id="gs4" gradientUnits="userSpaceOnUse" x1="0" y1="760" x2="0" y2="1520"><stop offset="0" stop-color="#6596a2"/><stop offset="1" stop-color="#9ab9c2"/></linearGradient><clipPath id="cl4"><use href="#blobp" transform="translate(24,15) scale(3)"/><rect x="-126" y="-285" width="1140" height="1020"/></clipPath></defs>
<g transform="translate(130,1568) scale(0.33333)">
<g clip-path="url(#cl4)"><path d="M960.0 830.0C992.7 788.7 1146.0 752.0 1146.0 752.0L1490.0 756.0C1490.0 756.0 1601.7 806.0 1640.0 830.0C1678.3 854.0 1720.0 900.0 1720.0 900.0L1720.0 1560.0L640.0 1560.0C640.0 1560.0 676.0 1530.3 692.0 1500.0C708.0 1469.7 724.7 1419.7 736.0 1378.0C747.3 1336.3 750.7 1295.5 760.0 1250.0C769.3 1204.5 792.0 1105.0 792.0 1105.0L950.0 1040.0C950.0 1040.0 948.3 1035.0 950.0 1000.0C951.7 965.0 927.3 871.3 960.0 830.0Z" fill="url(#gs4)" /><path d="M1146.0 752.0L1183.0 858.0L1241.0 836.0L1322.0 888.0L1402.0 756.0L1490.0 756.0L1249.0 1203.0L1212.0 1181.0C1212.0 1181.0 1179.0 973.5 1168.0 902.0C1157.0 830.5 1146.0 752.0 1146.0 752.0Z" fill="#38666f" /><path d="M1490.0 756.0L1440.0 748.0C1440.0 748.0 1336.3 937.2 1300.0 1010.0C1263.7 1082.8 1222.0 1185.0 1222.0 1185.0L1249.0 1203.0L1490.0 756.0Z" fill="#4a7c88" /><path d="M1146.0 752.0C1146.0 752.0 1157.0 830.5 1168.0 902.0C1179.0 973.5 1212.0 1181.0 1212.0 1181.0" fill="none" stroke="#5a8c98" stroke-width="8" stroke-linecap="round" stroke-linejoin="round" /><path d="M1182.0 1214.0L1380.0 1254.0L1500.0 1300.0L1256.0 1380.0L1146.0 1393.0L1131.0 1356.0L1182.0 1214.0Z" fill="#86abb5" /><path d="M1185.0 1220.0L1395.0 1262.0" fill="none" stroke="#5f909c" stroke-width="26" stroke-linecap="round" stroke-linejoin="round" stroke-linecap="butt"/><path d="M1192.0 1228.0C1192.0 1228.0 1137.0 1355.5 1150.0 1375.0C1163.0 1394.5 1270.0 1345.0 1270.0 1345.0" fill="none" stroke="#5f909c" stroke-width="20" stroke-linecap="round" stroke-linejoin="round" /><path d="M644.0 1400.0L736.0 1378.0L692.0 1560.0L640.0 1560.0L644.0 1400.0Z" fill="#d5e0e6" /><path d="M904.0 1415.0L978.0 1342.0L970.0 1500.0L897.0 1520.0L904.0 1415.0Z" fill="#d5e0e6" /></g><path d="M1240.0 640.0L1240.0 800.0L1392.0 725.0L1388.0 540.0L1240.0 640.0Z" fill="#fca17f" /><path d="M1240.0 680.0C1240.0 680.0 1305.3 641.7 1330.0 622.0C1354.7 602.3 1388.0 562.0 1388.0 562.0C1388.0 562.0 1404.7 617.0 1390.0 640.0C1375.3 663.0 1325.0 683.3 1300.0 700.0C1275.0 716.7 1240.0 740.0 1240.0 740.0L1240.0 680.0Z" fill="#f58d73" /><path d="M1180.0 760.0L1240.0 722.0L1250.0 812.0L1392.0 720.0L1432.0 742.0L1330.0 892.0L1250.0 840.0L1182.0 862.0L1180.0 760.0Z" fill="#fff" /><ellipse cx="1420" cy="482" rx="30" ry="50" fill="#fca17f"/><path d="M1428.0 458.0C1428.0 458.0 1410.0 477.0 1408.0 486.0C1406.0 495.0 1416.0 512.0 1416.0 512.0" fill="none" stroke="#f58d73" stroke-width="6" stroke-linecap="round" stroke-linejoin="round" /><path d="M1068.0 230.0L1392.0 230.0C1392.0 230.0 1391.0 345.0 1390.0 400.0C1389.0 455.0 1396.0 523.0 1386.0 560.0C1376.0 597.0 1358.7 604.0 1330.0 622.0C1301.3 640.0 1243.0 660.0 1214.0 668.0C1185.0 676.0 1170.3 673.8 1156.0 670.0C1141.7 666.2 1137.0 661.0 1128.0 645.0C1119.0 629.0 1109.5 601.8 1102.0 574.0C1094.5 546.2 1088.3 510.0 1083.0 478.0C1077.7 446.0 1072.5 423.3 1070.0 382.0C1067.5 340.7 1068.0 230.0 1068.0 230.0Z" fill="#fca17f" /><path d="M1377.0 456.0C1377.0 456.0 1408.8 431.7 1419.0 414.0C1429.2 396.3 1433.8 370.3 1438.0 350.0C1442.2 329.7 1445.7 311.2 1444.0 292.0C1442.3 272.8 1437.5 252.0 1428.0 235.0C1418.5 218.0 1403.5 201.8 1387.0 190.0C1370.5 178.2 1349.3 169.3 1329.0 164.0C1308.7 158.7 1285.2 156.8 1265.0 158.0C1244.8 159.2 1223.5 166.5 1208.0 171.0C1192.5 175.5 1183.3 183.2 1172.0 185.0C1160.7 186.8 1152.7 179.0 1140.0 182.0C1127.3 185.0 1109.8 192.7 1096.0 203.0C1082.2 213.3 1066.3 229.2 1057.0 244.0C1047.7 258.8 1042.3 275.3 1040.0 292.0C1037.7 308.7 1039.0 330.0 1043.0 344.0C1047.0 358.0 1064.0 376.0 1064.0 376.0C1064.0 376.0 1077.0 364.7 1086.0 356.0C1095.0 347.3 1109.0 333.5 1118.0 324.0C1127.0 314.5 1133.7 305.3 1140.0 299.0C1146.3 292.7 1156.0 286.0 1156.0 286.0L1217.0 310.0L1182.0 267.0C1182.0 267.0 1225.8 283.7 1252.0 289.0C1278.2 294.3 1339.0 299.0 1339.0 299.0C1339.0 299.0 1351.7 323.8 1358.0 350.0C1364.3 376.2 1377.0 456.0 1377.0 456.0Z" fill="#111416" /><ellipse cx="1129" cy="464" rx="16" ry="24" fill="#111416"/><ellipse cx="1273" cy="433" rx="17" ry="26" fill="#111416"/><path d="M1086.0 424.0C1086.0 424.0 1109.0 415.7 1118.0 411.0C1127.0 406.3 1140.0 396.0 1140.0 396.0" fill="none" stroke="#33383b" stroke-width="13" stroke-linecap="round" stroke-linejoin="round" /><path d="M1227.0 350.0C1227.0 350.0 1248.0 366.8 1262.0 369.0C1276.0 371.2 1311.0 363.0 1311.0 363.0" fill="none" stroke="#33383b" stroke-width="15" stroke-linecap="round" stroke-linejoin="round" /><path d="M1182.0 430.0C1182.0 430.0 1182.7 507.5 1188.0 523.0C1193.3 538.5 1214.0 523.0 1214.0 523.0" fill="none" stroke="#e26f5a" stroke-width="6" stroke-linecap="round" stroke-linejoin="round" /><path d="M1198.0 574.0C1198.0 574.0 1222.7 560.3 1236.0 559.0C1249.3 557.7 1278.0 566.0 1278.0 566.0" fill="none" stroke="#c9614f" stroke-width="6" stroke-linecap="round" stroke-linejoin="round" /><path d="M1222.0 598.0L1258.0 592.0" fill="none" stroke="#f58d73" stroke-width="5" stroke-linecap="round" stroke-linejoin="round" /><path d="M430.0 325.0C468.3 324.2 501.7 329.2 530.0 345.0C558.3 360.8 581.7 384.2 600.0 420.0C618.3 455.8 630.8 513.3 640.0 560.0C649.2 606.7 641.7 660.0 655.0 700.0C668.3 740.0 720.0 800.0 720.0 800.0C720.0 800.0 666.7 840.0 640.0 852.0C613.3 864.0 591.7 867.0 560.0 872.0C528.3 877.0 491.7 882.0 450.0 882.0C408.3 882.0 351.7 879.0 310.0 872.0C268.3 865.0 231.7 854.5 200.0 840.0C168.3 825.5 120.0 785.0 120.0 785.0C120.0 785.0 158.3 734.2 170.0 700.0C181.7 665.8 181.7 623.3 190.0 580.0C198.3 536.7 201.7 478.3 220.0 440.0C238.3 401.7 265.0 369.2 300.0 350.0C335.0 330.8 391.7 325.8 430.0 325.0Z" fill="#111416" /><path d="M380.0 700.0C380.0 700.0 371.7 837.8 352.0 870.0C332.3 902.2 262.0 893.0 262.0 893.0L272.0 1020.0C272.0 1020.0 365.0 1061.3 400.0 1080.0C435.0 1098.7 482.0 1132.0 482.0 1132.0C482.0 1132.0 533.3 1088.7 540.0 1050.0C546.7 1011.3 518.7 931.7 522.0 900.0C525.3 868.3 560.0 860.0 560.0 860.0L530.0 760.0L380.0 700.0Z" fill="#fca17f" /><path d="M380.0 725.0C380.0 725.0 425.8 753.7 450.0 762.0C474.2 770.3 525.0 775.0 525.0 775.0C525.0 775.0 554.2 824.2 540.0 830.0C525.8 835.8 468.0 816.7 440.0 810.0C412.0 803.3 372.0 790.0 372.0 790.0L380.0 725.0Z" fill="#f58d73" /><g clip-path="url(#cl4)"><path d="M262.0 893.0C262.0 893.0 152.0 925.5 120.0 960.0C88.0 994.5 85.0 1043.3 70.0 1100.0C55.0 1156.7 36.7 1223.3 30.0 1300.0C23.3 1376.7 30.0 1560.0 30.0 1560.0L640.0 1560.0C640.0 1560.0 638.0 1451.7 648.0 1400.0C658.0 1348.3 691.3 1300.0 700.0 1250.0C708.7 1200.0 700.0 1100.0 700.0 1100.0L540.0 1045.0L482.0 1132.0C482.0 1132.0 435.0 1098.7 400.0 1080.0C365.0 1061.3 272.0 1020.0 272.0 1020.0L262.0 893.0Z" fill="url(#gs4)" /><path d="M150.0 1295.0C166.3 1281.3 228.0 1258.0 228.0 1258.0L245.0 1352.0C245.0 1352.0 415.8 1324.2 450.0 1342.0C484.2 1359.8 470.0 1441.3 450.0 1459.0C430.0 1476.7 366.7 1457.0 330.0 1448.0C293.3 1439.0 263.3 1423.0 230.0 1405.0C196.7 1387.0 143.3 1358.3 130.0 1340.0C116.7 1321.7 133.7 1308.7 150.0 1295.0Z" fill="#fca17f" /><path d="M215.0 1352.0L238.0 1255.0L247.0 1354.0L215.0 1352.0Z" fill="#dce6eb" /></g><ellipse cx="300" cy="672" rx="28" ry="46" fill="#fca17f"/><path d="M292.0 648.0C292.0 648.0 310.0 665.3 312.0 674.0C314.0 682.7 304.0 700.0 304.0 700.0" fill="none" stroke="#f58d73" stroke-width="5" stroke-linecap="round" stroke-linejoin="round" /><path d="M315.0 440.0L592.0 440.0C592.0 440.0 604.7 573.3 602.0 620.0C599.3 666.7 589.7 694.0 576.0 720.0C562.3 746.0 541.0 769.0 520.0 776.0C499.0 783.0 473.3 771.0 450.0 762.0C426.7 753.0 401.7 742.3 380.0 722.0C358.3 701.7 330.8 687.0 320.0 640.0C309.2 593.0 315.0 440.0 315.0 440.0Z" fill="#fca17f" /><path d="M316.0 558.0C316.0 558.0 286.0 454.7 300.0 420.0C314.0 385.3 348.3 356.7 400.0 350.0C451.7 343.3 572.5 335.0 610.0 380.0C647.5 425.0 625.0 620.0 625.0 620.0C625.0 620.0 599.5 579.0 590.0 560.0C580.5 541.0 573.8 519.2 568.0 506.0C562.2 492.8 563.5 488.7 555.0 481.0C546.5 473.3 528.3 466.2 517.0 460.0C505.7 453.8 487.0 444.0 487.0 444.0L474.0 464.0L440.0 442.0L406.0 481.0C406.0 481.0 404.0 476.2 389.0 489.0C374.0 501.8 316.0 558.0 316.0 558.0Z" fill="#111416" /><ellipse cx="428" cy="597" rx="18" ry="28" fill="#111416" transform="rotate(-12 428 597)"/><ellipse cx="544" cy="567" rx="17" ry="26" fill="#111416" transform="rotate(-8 544 567)"/><path d="M398.0 575.0L410.0 588.0" fill="none" stroke="#111416" stroke-width="6" stroke-linecap="round" stroke-linejoin="round" /><path d="M560.0 540.0L572.0 550.0" fill="none" stroke="#111416" stroke-width="6" stroke-linecap="round" stroke-linejoin="round" /><path d="M389.0 549.0C389.0 549.0 406.2 532.3 414.0 528.0C421.8 523.7 436.0 523.0 436.0 523.0" fill="none" stroke="#33383b" stroke-width="14" stroke-linecap="round" stroke-linejoin="round" /><path d="M506.0 506.0C506.0 506.0 521.8 505.8 530.0 508.0C538.2 510.2 555.0 519.0 555.0 519.0" fill="none" stroke="#33383b" stroke-width="14" stroke-linecap="round" stroke-linejoin="round" /><path d="M502.0 560.0C502.0 560.0 521.0 625.7 520.0 640.0C519.0 654.3 496.0 646.0 496.0 646.0" fill="none" stroke="#e26f5a" stroke-width="6" stroke-linecap="round" stroke-linejoin="round" /><path d="M461.0 699.0C461.0 699.0 480.3 692.0 491.0 692.0C501.7 692.0 525.0 699.0 525.0 699.0" fill="none" stroke="#b84a3f" stroke-width="7" stroke-linecap="round" stroke-linejoin="round" /><path d="M470.0 728.0L505.0 725.0" fill="none" stroke="#f58d73" stroke-width="5" stroke-linecap="round" stroke-linejoin="round" /><path d="M498.0 1020.0C496.8 987.0 502.0 950.8 516.0 924.0C530.0 897.2 557.7 872.3 582.0 859.0C606.3 845.7 635.2 842.8 662.0 844.0C688.8 845.2 719.7 853.2 743.0 866.0C766.3 878.8 783.0 902.2 802.0 921.0C821.0 939.8 857.0 979.0 857.0 979.0L765.0 1075.0L857.0 1133.0L776.0 1240.0L857.0 1320.0L809.0 1419.0C809.0 1419.0 766.2 1384.2 743.0 1364.0C719.8 1343.8 696.8 1322.5 670.0 1298.0C643.2 1273.5 606.5 1246.3 582.0 1217.0C557.5 1187.7 537.0 1154.8 523.0 1122.0C509.0 1089.2 499.2 1053.0 498.0 1020.0Z" fill="#38666f" /><path d="M871.0 906.0C871.0 906.0 921.7 862.0 948.0 851.0C974.3 840.0 1002.2 835.7 1029.0 840.0C1055.8 844.3 1086.5 856.8 1109.0 877.0C1131.5 897.2 1153.0 929.8 1164.0 961.0C1175.0 992.2 1178.0 1032.2 1175.0 1064.0C1172.0 1095.8 1160.7 1124.0 1146.0 1152.0C1131.3 1180.0 1112.7 1201.5 1087.0 1232.0C1061.3 1262.5 1026.2 1304.5 992.0 1335.0C957.8 1365.5 882.0 1415.0 882.0 1415.0L919.0 1320.0L846.0 1236.0L926.0 1130.0L835.0 1075.0L930.0 976.0L871.0 906.0Z" fill="#38666f" /><path d="M450.0 1342.0C450.0 1342.0 506.7 1348.3 531.0 1335.0C555.3 1321.7 574.2 1281.0 596.0 1262.0C617.8 1243.0 643.7 1229.0 662.0 1221.0C680.3 1213.0 699.8 1212.2 706.0 1214.0C712.2 1215.8 712.3 1222.8 699.0 1232.0C685.7 1241.2 626.0 1269.0 626.0 1269.0C626.0 1269.0 653.0 1292.5 670.0 1298.0C687.0 1303.5 718.3 1291.0 728.0 1302.0C737.7 1313.0 737.7 1350.0 728.0 1364.0C718.3 1378.0 698.0 1377.5 670.0 1386.0C642.0 1394.5 596.7 1402.8 560.0 1415.0C523.3 1427.2 450.0 1459.0 450.0 1459.0L450.0 1342.0Z" fill="#fca17f" /><path d="M926.0 1071.0C928.3 1065.5 958.7 1064.8 977.0 1071.0C995.3 1077.2 1017.7 1092.2 1036.0 1108.0C1054.3 1123.8 1071.7 1148.3 1087.0 1166.0C1102.3 1183.7 1128.0 1214.0 1128.0 1214.0L1087.0 1327.0C1087.0 1327.0 1027.7 1333.7 1007.0 1324.0C986.3 1314.3 980.2 1280.7 963.0 1269.0C945.8 1257.3 915.0 1266.2 904.0 1254.0C893.0 1241.8 894.5 1210.7 897.0 1196.0C899.5 1181.3 898.3 1172.8 919.0 1166.0C939.7 1159.2 1002.7 1159.8 1021.0 1155.0C1039.3 1150.2 1038.7 1145.5 1029.0 1137.0C1019.3 1128.5 980.2 1115.0 963.0 1104.0C945.8 1093.0 923.7 1076.5 926.0 1071.0Z" fill="#fca17f" /><path d="M915.0 1200.0L975.0 1196.0" fill="none" stroke="#e05a4e" stroke-width="8" stroke-linecap="round" stroke-linejoin="round" /><path d="M918.0 1232.0L975.0 1232.0" fill="none" stroke="#e05a4e" stroke-width="8" stroke-linecap="round" stroke-linejoin="round" /><g clip-path="url(#cl4)"><path d="M1128.0 1203.0L1183.0 1214.0L1131.0 1357.0L1076.0 1335.0L1128.0 1203.0Z" fill="#e3e9ed" /></g></g>
<defs><linearGradient id="gs5" gradientUnits="userSpaceOnUse" x1="0" y1="760" x2="0" y2="1520"><stop offset="0" stop-color="#6596a2"/><stop offset="1" stop-color="#98b8c1"/></linearGradient><clipPath id="cl5"><use href="#blobp" transform="translate(24,15) scale(3)"/><rect x="-126" y="-285" width="1140" height="1020"/></clipPath></defs>
<g transform="translate(703,1568) scale(0.33333)">
<path d="M722.0 592.0C721.2 569.5 731.2 568.7 740.0 565.0C748.8 561.3 763.0 563.8 775.0 570.0C787.0 576.2 812.0 602.0 812.0 602.0C812.0 602.0 836.2 582.7 850.0 584.0C863.8 585.3 886.7 595.7 895.0 610.0C903.3 624.3 905.8 651.7 900.0 670.0C894.2 688.3 879.7 705.7 860.0 720.0C840.3 734.3 782.0 756.0 782.0 756.0C782.0 756.0 755.0 727.3 745.0 700.0C735.0 672.7 722.8 614.5 722.0 592.0Z" fill="#38666f" /><g clip-path="url(#cl5)"><path d="M470.0 175.0C510.0 173.3 550.0 182.5 580.0 200.0C610.0 217.5 633.3 246.7 650.0 280.0C666.7 313.3 671.7 356.7 680.0 400.0C688.3 443.3 685.0 496.7 700.0 540.0C715.0 583.3 770.0 660.0 770.0 660.0C770.0 660.0 725.0 702.3 700.0 716.0C675.0 729.7 650.0 737.2 620.0 742.0C590.0 746.8 553.3 746.2 520.0 745.0C486.7 743.8 446.7 736.5 420.0 735.0C393.3 733.5 388.3 740.8 360.0 736.0C331.7 731.2 282.5 721.2 250.0 706.0C217.5 690.8 165.0 645.0 165.0 645.0C165.0 645.0 207.5 595.8 220.0 560.0C232.5 524.2 231.7 473.3 240.0 430.0C248.3 386.7 253.3 336.7 270.0 300.0C286.7 263.3 306.7 230.8 340.0 210.0C373.3 189.2 430.0 176.7 470.0 175.0Z" fill="#fff" stroke="#fff" stroke-width="18" stroke-linejoin="round"/><path d="M330.0 760.0C330.0 760.0 211.7 790.0 180.0 830.0C148.3 870.0 150.3 948.0 140.0 1000.0C129.7 1052.0 118.0 1142.0 118.0 1142.0L300.0 1110.0L265.0 1245.0L235.0 1560.0L880.0 1560.0C880.0 1560.0 860.0 1265.3 850.0 1172.0C840.0 1078.7 833.3 1055.0 820.0 1000.0C806.7 945.0 797.2 878.7 770.0 842.0C742.8 805.3 657.0 780.0 657.0 780.0L655.0 880.0C655.0 880.0 629.2 911.3 610.0 930.0C590.8 948.7 540.0 992.0 540.0 992.0C540.0 992.0 494.2 937.0 460.0 920.0C425.8 903.0 335.0 890.0 335.0 890.0L330.0 760.0Z" fill="#fff" stroke="#fff" stroke-width="18" stroke-linejoin="round"/></g><path d="M470.0 175.0C510.0 173.3 550.0 182.5 580.0 200.0C610.0 217.5 633.3 246.7 650.0 280.0C666.7 313.3 671.7 356.7 680.0 400.0C688.3 443.3 685.0 496.7 700.0 540.0C715.0 583.3 770.0 660.0 770.0 660.0C770.0 660.0 725.0 702.3 700.0 716.0C675.0 729.7 650.0 737.2 620.0 742.0C590.0 746.8 553.3 746.2 520.0 745.0C486.7 743.8 446.7 736.5 420.0 735.0C393.3 733.5 388.3 740.8 360.0 736.0C331.7 731.2 282.5 721.2 250.0 706.0C217.5 690.8 165.0 645.0 165.0 645.0C165.0 645.0 207.5 595.8 220.0 560.0C232.5 524.2 231.7 473.3 240.0 430.0C248.3 386.7 253.3 336.7 270.0 300.0C286.7 263.3 306.7 230.8 340.0 210.0C373.3 189.2 430.0 176.7 470.0 175.0Z" fill="#111416" /><path d="M440.0 580.0C440.0 580.0 438.3 700.0 420.0 730.0C401.7 760.0 330.0 760.0 330.0 760.0L335.0 890.0C335.0 890.0 425.8 903.0 460.0 920.0C494.2 937.0 540.0 992.0 540.0 992.0C540.0 992.0 590.8 948.7 610.0 930.0C629.2 911.3 655.0 880.0 655.0 880.0L657.0 780.0C657.0 780.0 578.2 747.0 560.0 722.0C541.8 697.0 548.0 630.0 548.0 630.0L440.0 580.0Z" fill="#fca17f" /><path d="M440.0 600.0C440.0 600.0 502.0 635.3 520.0 642.0C538.0 648.7 548.0 640.0 548.0 640.0C548.0 640.0 567.3 691.7 556.0 700.0C544.7 708.3 500.7 696.7 480.0 690.0C459.3 683.3 432.0 660.0 432.0 660.0L440.0 600.0Z" fill="#f58d73" /><g clip-path="url(#cl5)"><path d="M330.0 760.0C330.0 760.0 211.7 790.0 180.0 830.0C148.3 870.0 150.3 948.0 140.0 1000.0C129.7 1052.0 118.0 1142.0 118.0 1142.0L300.0 1110.0L265.0 1245.0L235.0 1560.0L880.0 1560.0C880.0 1560.0 860.0 1265.3 850.0 1172.0C840.0 1078.7 833.3 1055.0 820.0 1000.0C806.7 945.0 797.2 878.7 770.0 842.0C742.8 805.3 657.0 780.0 657.0 780.0L655.0 880.0C655.0 880.0 629.2 911.3 610.0 930.0C590.8 948.7 540.0 992.0 540.0 992.0C540.0 992.0 494.2 937.0 460.0 920.0C425.8 903.0 335.0 890.0 335.0 890.0L330.0 760.0Z" fill="url(#gs5)" /><path d="M118.0 1142.0L300.0 1110.0L265.0 1245.0C265.0 1245.0 537.5 1195.0 600.0 1200.0C662.5 1205.0 690.0 1243.0 640.0 1275.0C590.0 1307.0 376.7 1382.0 300.0 1392.0C223.3 1402.0 212.5 1358.7 180.0 1335.0C147.5 1311.3 115.3 1282.2 105.0 1250.0C94.7 1217.8 118.0 1142.0 118.0 1142.0Z" fill="#fca17f" /><path d="M722.0 1285.0L842.0 1285.0L880.0 1560.0L730.0 1560.0L722.0 1285.0Z" fill="#f98f72" /><path d="M300.0 1110.0L265.0 1245.0L312.0 1240.0L300.0 1110.0Z" fill="#dce6eb" /></g><path d="M590.0 1210.0C596.7 1182.5 649.7 1132.8 680.0 1110.0C710.3 1087.2 758.3 1074.7 772.0 1073.0C785.7 1071.3 775.7 1088.5 762.0 1100.0C748.3 1111.5 690.0 1142.0 690.0 1142.0C690.0 1142.0 756.3 1153.7 780.0 1160.0C803.7 1166.3 821.7 1158.3 832.0 1180.0C842.3 1201.7 859.0 1271.3 842.0 1290.0C825.0 1308.7 763.7 1294.5 730.0 1292.0C696.3 1289.5 663.3 1288.7 640.0 1275.0C616.7 1261.3 583.3 1237.5 590.0 1210.0Z" fill="#fca17f" /><path d="M700.0 1200.0C700.0 1200.0 741.7 1185.8 760.0 1185.0C778.3 1184.2 810.0 1195.0 810.0 1195.0" fill="none" stroke="#fdbb9f" stroke-width="10" stroke-linecap="round" stroke-linejoin="round" /><ellipse cx="370" cy="545" rx="30" ry="48" fill="#fca17f"/><path d="M362.0 520.0C362.0 520.0 380.0 538.7 382.0 548.0C384.0 557.3 374.0 576.0 374.0 576.0" fill="none" stroke="#f58d73" stroke-width="5" stroke-linecap="round" stroke-linejoin="round" /><path d="M385.0 300.0L652.0 300.0C652.0 300.0 655.5 407.8 655.0 450.0C654.5 492.2 654.3 526.7 649.0 553.0C643.7 579.3 636.5 594.0 623.0 608.0C609.5 622.0 587.2 632.7 568.0 637.0C548.8 641.3 528.0 639.5 508.0 634.0C488.0 628.5 466.8 619.7 448.0 604.0C429.2 588.3 405.5 590.7 395.0 540.0C384.5 489.3 385.0 300.0 385.0 300.0Z" fill="#fca17f" /><path d="M380.0 425.0C380.0 425.0 353.3 334.2 365.0 300.0C376.7 265.8 407.5 231.7 450.0 220.0C492.5 208.3 580.0 191.7 620.0 230.0C660.0 268.3 690.0 450.0 690.0 450.0C690.0 450.0 668.3 411.3 660.0 400.0C651.7 388.7 646.2 390.7 640.0 382.0C633.8 373.3 631.5 357.2 623.0 348.0C614.5 338.8 601.0 334.2 589.0 327.0C577.0 319.8 551.0 305.0 551.0 305.0L540.0 327.0L504.0 305.0L472.0 340.0C472.0 340.0 466.0 339.5 457.0 348.0C448.0 356.5 430.8 378.2 418.0 391.0C405.2 403.8 380.0 425.0 380.0 425.0Z" fill="#111416" /><ellipse cx="492" cy="456" rx="18" ry="28" fill="#111416" transform="rotate(-12 492 456)"/><ellipse cx="606" cy="424" rx="17" ry="26" fill="#111416" transform="rotate(-8 606 424)"/><path d="M462.0 435.0L474.0 446.0" fill="none" stroke="#111416" stroke-width="6" stroke-linecap="round" stroke-linejoin="round" /><path d="M620.0 395.0L632.0 405.0" fill="none" stroke="#111416" stroke-width="6" stroke-linecap="round" stroke-linejoin="round" /><path d="M457.0 409.0C457.0 409.0 474.2 391.3 482.0 387.0C489.8 382.7 504.0 383.0 504.0 383.0" fill="none" stroke="#33383b" stroke-width="14" stroke-linecap="round" stroke-linejoin="round" /><path d="M572.0 366.0C572.0 366.0 589.5 364.5 598.0 367.0C606.5 369.5 623.0 381.0 623.0 381.0" fill="none" stroke="#33383b" stroke-width="14" stroke-linecap="round" stroke-linejoin="round" /><path d="M566.0 420.0C566.0 420.0 590.2 485.7 590.0 500.0C589.8 514.3 565.0 506.0 565.0 506.0" fill="none" stroke="#e26f5a" stroke-width="6" stroke-linecap="round" stroke-linejoin="round" /><path d="M515.0 572.0C515.0 572.0 538.2 559.7 550.0 560.0C561.8 560.3 586.0 574.0 586.0 574.0" fill="none" stroke="#b84a3f" stroke-width="7" stroke-linecap="round" stroke-linejoin="round" /><path d="M535.0 598.0L570.0 595.0" fill="none" stroke="#f58d73" stroke-width="5" stroke-linecap="round" stroke-linejoin="round" /><g clip-path="url(#cl5)"><path d="M1145.0 870.0C1185.0 847.5 1200.0 835.0 1200.0 835.0L1450.0 830.0C1450.0 830.0 1458.3 839.2 1490.0 850.0C1521.7 860.8 1601.7 878.3 1640.0 895.0C1678.3 911.7 1720.0 950.0 1720.0 950.0L1720.0 1560.0L905.0 1560.0C905.0 1560.0 903.3 1186.7 905.0 1100.0C906.7 1013.3 905.8 1061.7 915.0 1040.0C924.2 1018.3 921.7 998.3 960.0 970.0C998.3 941.7 1105.0 892.5 1145.0 870.0Z" fill="url(#gs5)" /><path d="M1145.0 870.0L1200.0 835.0L1310.0 985.0L1385.0 935.0L1455.0 965.0L1450.0 830.0L1492.0 850.0C1492.0 850.0 1503.7 1031.3 1482.0 1100.0C1460.3 1168.7 1362.0 1262.0 1362.0 1262.0C1362.0 1262.0 1336.2 1165.3 1300.0 1100.0C1263.8 1034.7 1145.0 870.0 1145.0 870.0Z" fill="#38666f" /><path d="M1310.0 985.0L1385.0 935.0L1455.0 965.0C1455.0 965.0 1474.2 1054.2 1460.0 1100.0C1445.8 1145.8 1370.0 1240.0 1370.0 1240.0C1370.0 1240.0 1350.0 1162.5 1340.0 1120.0C1330.0 1077.5 1310.0 985.0 1310.0 985.0Z" fill="#4a7c88" /></g><path d="M1265.0 620.0L1265.0 802.0L1390.0 902.0L1425.0 750.0L1265.0 620.0Z" fill="#fca17f" /><path d="M1265.0 655.0C1265.0 655.0 1303.8 694.2 1330.0 712.0C1356.2 729.8 1422.0 762.0 1422.0 762.0C1422.0 762.0 1425.3 808.7 1410.0 810.0C1394.7 811.3 1354.2 781.7 1330.0 770.0C1305.8 758.3 1265.0 740.0 1265.0 740.0L1265.0 655.0Z" fill="#f58d73" /><path d="M1210.0 830.0L1265.0 800.0L1390.0 902.0L1310.0 985.0L1210.0 830.0Z" fill="#fff" /><path d="M1390.0 902.0L1442.0 828.0L1457.0 965.0L1388.0 935.0L1390.0 902.0Z" fill="#fff" /><ellipse cx="1218" cy="575" rx="30" ry="48" fill="#fca17f"/><path d="M1208.0 550.0C1208.0 550.0 1227.7 568.7 1230.0 578.0C1232.3 587.3 1222.0 606.0 1222.0 606.0" fill="none" stroke="#f58d73" stroke-width="6" stroke-linecap="round" stroke-linejoin="round" /><path d="M1252.0 330.0L1562.0 330.0C1562.0 330.0 1558.7 498.3 1552.0 560.0C1545.3 621.7 1533.7 664.0 1522.0 700.0C1510.3 736.0 1499.0 765.7 1482.0 776.0C1465.0 786.3 1445.3 772.7 1420.0 762.0C1394.7 751.3 1355.7 730.3 1330.0 712.0C1304.3 693.7 1279.3 677.3 1266.0 652.0C1252.7 626.7 1252.3 613.7 1250.0 560.0C1247.7 506.3 1252.0 330.0 1252.0 330.0Z" fill="#fca17f" /><path d="M1254.0 554.0C1254.0 554.0 1234.2 536.0 1224.0 518.0C1213.8 500.0 1198.2 470.2 1193.0 446.0C1187.8 421.8 1185.8 396.2 1193.0 373.0C1200.2 349.8 1214.8 325.2 1236.0 307.0C1257.2 288.8 1291.8 270.7 1320.0 264.0C1348.2 257.3 1380.8 263.8 1405.0 267.0C1429.2 270.2 1446.8 280.3 1465.0 283.0C1483.2 285.7 1496.8 276.0 1514.0 283.0C1531.2 290.0 1554.5 307.0 1568.0 325.0C1581.5 343.0 1592.0 370.8 1595.0 391.0C1598.0 411.2 1591.5 431.3 1586.0 446.0C1580.5 460.7 1562.0 479.0 1562.0 479.0C1562.0 479.0 1537.2 458.7 1526.0 446.0C1514.8 433.3 1505.2 414.2 1495.0 403.0C1484.8 391.8 1465.0 379.0 1465.0 379.0L1414.0 406.0L1444.0 372.0C1444.0 372.0 1398.7 390.8 1375.0 397.0C1351.3 403.2 1302.0 409.0 1302.0 409.0C1302.0 409.0 1286.0 445.8 1278.0 470.0C1270.0 494.2 1254.0 554.0 1254.0 554.0Z" fill="#111416" /><ellipse cx="1360" cy="540" rx="16" ry="25" fill="#111416"/><ellipse cx="1503" cy="565" rx="14" ry="23" fill="#111416"/><path d="M1315.0 474.0C1315.0 474.0 1351.2 452.0 1366.0 450.0C1380.8 448.0 1404.0 462.0 1404.0 462.0" fill="none" stroke="#33383b" stroke-width="15" stroke-linecap="round" stroke-linejoin="round" /><path d="M1478.0 490.0C1478.0 490.0 1497.3 492.0 1505.0 496.0C1512.7 500.0 1524.0 514.0 1524.0 514.0" fill="none" stroke="#33383b" stroke-width="15" stroke-linecap="round" stroke-linejoin="round" /><path d="M1452.0 540.0C1452.0 540.0 1447.3 607.3 1442.0 620.0C1436.7 632.7 1420.0 616.0 1420.0 616.0" fill="none" stroke="#e26f5a" stroke-width="6" stroke-linecap="round" stroke-linejoin="round" /><path d="M1360.0 666.0C1360.0 666.0 1388.7 655.0 1400.0 656.0C1411.3 657.0 1428.0 672.0 1428.0 672.0" fill="none" stroke="#b4493e" stroke-width="6" stroke-linecap="round" stroke-linejoin="round" /><path d="M1378.0 692.0L1412.0 694.0" fill="none" stroke="#f58d73" stroke-width="5" stroke-linecap="round" stroke-linejoin="round" /><g clip-path="url(#cl5)"><path d="M1175.0 1056.0C1179.0 1046.0 1190.8 1053.0 1199.0 1062.0C1207.2 1071.0 1224.0 1110.0 1224.0 1110.0C1224.0 1110.0 1321.8 1015.2 1344.0 996.0C1366.2 976.8 1353.8 992.0 1357.0 995.0C1360.2 998.0 1371.2 994.5 1363.0 1014.0C1354.8 1033.5 1308.0 1112.0 1308.0 1112.0C1308.0 1112.0 1376.8 1058.3 1393.0 1050.0C1409.2 1041.7 1410.0 1049.7 1405.0 1062.0C1400.0 1074.3 1363.0 1124.0 1363.0 1124.0C1363.0 1124.0 1405.5 1079.3 1417.0 1074.0C1428.5 1068.7 1437.0 1077.8 1432.0 1092.0C1427.0 1106.2 1401.7 1133.8 1387.0 1159.0C1372.3 1184.2 1362.2 1214.8 1344.0 1243.0C1325.8 1271.2 1302.2 1321.8 1278.0 1328.0C1253.8 1334.2 1214.2 1299.2 1199.0 1280.0C1183.8 1260.8 1191.0 1239.3 1187.0 1213.0C1183.0 1186.7 1177.0 1148.2 1175.0 1122.0C1173.0 1095.8 1171.0 1066.0 1175.0 1056.0Z" fill="#fca17f" /></g><path d="M1385.0 1062.0L1370.0 1085.0" fill="none" stroke="#e0584c" stroke-width="8" stroke-linecap="round" stroke-linejoin="round" /><path d="M1415.0 1085.0L1398.0 1110.0" fill="none" stroke="#e0584c" stroke-width="8" stroke-linecap="round" stroke-linejoin="round" /></g>
<defs><linearGradient id="gs6" gradientUnits="userSpaceOnUse" x1="0" y1="640" x2="0" y2="1520"><stop offset="0" stop-color="#6596a2"/><stop offset="1" stop-color="#9ab9c2"/></linearGradient><clipPath id="cl6"><use href="#blobp" transform="translate(24,15) scale(3)"/><rect x="-126" y="-285" width="1140" height="1020"/><rect x="-126" y="700" width="420" height="260"/></clipPath></defs>
<g transform="translate(1276,1568) scale(0.33333)">
<path d="M740.0 395.0C740.0 395.0 720.0 452.5 700.0 480.0C680.0 507.5 650.0 538.0 620.0 560.0C590.0 582.0 520.0 612.0 520.0 612.0" fill="none" stroke="#4f828e" stroke-width="18" stroke-linecap="round" stroke-linejoin="round" /><path d="M950.0 362.0C950.0 362.0 974.2 392.8 990.0 405.0C1005.8 417.2 1045.0 435.0 1045.0 435.0" fill="none" stroke="#7ea8b2" stroke-width="15" stroke-linecap="round" stroke-linejoin="round" /><path d="M815.0 462.0C815.0 462.0 715.8 378.7 680.0 340.0C644.2 301.3 616.7 263.3 600.0 230.0C583.3 196.7 578.3 170.0 580.0 140.0C581.7 110.0 590.0 74.2 610.0 50.0C630.0 25.8 671.7 1.7 700.0 -5.0C728.3 -11.7 760.0 1.2 780.0 10.0C800.0 18.8 820.0 48.0 820.0 48.0C820.0 48.0 840.0 18.8 860.0 10.0C880.0 1.2 911.7 -10.8 940.0 -5.0C968.3 0.8 1009.2 20.8 1030.0 45.0C1050.8 69.2 1063.3 107.5 1065.0 140.0C1066.7 172.5 1059.2 205.0 1040.0 240.0C1020.8 275.0 987.5 313.0 950.0 350.0C912.5 387.0 815.0 462.0 815.0 462.0Z" fill="#38666f" /><g clip-path="url(#cl6)"><ellipse cx="405" cy="1057" rx="358" ry="22" fill="none" stroke="#5a8c98" stroke-width="9"/><path d="M295.0 625.0C325.0 609.3 330.0 606.0 330.0 606.0L470.0 590.0C470.0 590.0 497.0 590.0 505.0 600.0C513.0 610.0 498.8 631.7 518.0 650.0C537.2 668.3 593.0 685.0 620.0 710.0C647.0 735.0 663.3 760.0 680.0 800.0C696.7 840.0 706.7 883.3 720.0 950.0C733.3 1016.7 745.8 1098.3 760.0 1200.0C774.2 1301.7 805.0 1560.0 805.0 1560.0L60.0 1560.0C60.0 1560.0 81.7 1293.3 85.0 1200.0C88.3 1106.7 80.0 1066.7 80.0 1000.0C80.0 933.3 73.3 850.0 85.0 800.0C96.7 750.0 115.0 729.2 150.0 700.0C185.0 670.8 265.0 640.7 295.0 625.0Z" fill="url(#gs6)" /><path d="M150.0 900.0C150.0 900.0 157.3 1030.0 160.0 1100.0C162.7 1170.0 166.0 1320.0 166.0 1320.0" fill="none" stroke="#5a8c98" stroke-width="7" stroke-linecap="round" stroke-linejoin="round" /><path d="M590.0 950.0C590.0 950.0 593.5 1101.7 596.0 1200.0C598.5 1298.3 605.0 1540.0 605.0 1540.0" fill="none" stroke="#5a8c98" stroke-width="12" stroke-linecap="round" stroke-linejoin="round" /><path d="M735.0 1080.0C735.0 1080.0 752.0 1203.3 762.0 1280.0C772.0 1356.7 795.0 1540.0 795.0 1540.0" fill="none" stroke="#5a8c98" stroke-width="8" stroke-linecap="round" stroke-linejoin="round" /><path d="M310.0 660.0C310.0 660.0 369.2 664.0 400.0 662.0C430.8 660.0 495.0 648.0 495.0 648.0" fill="none" stroke="#4f828e" stroke-width="8" stroke-linecap="round" stroke-linejoin="round" /><path d="M330.0 640.0L333.0 658.0" fill="none" stroke="#4f828e" stroke-width="7" stroke-linecap="round" stroke-linejoin="round" /><path d="M370.0 640.0L373.0 658.0" fill="none" stroke="#4f828e" stroke-width="7" stroke-linecap="round" stroke-linejoin="round" /><path d="M410.0 640.0L413.0 658.0" fill="none" stroke="#4f828e" stroke-width="7" stroke-linecap="round" stroke-linejoin="round" /><path d="M450.0 640.0L453.0 658.0" fill="none" stroke="#4f828e" stroke-width="7" stroke-linecap="round" stroke-linejoin="round" /></g><path d="M330.0 520.0L330.0 615.0L472.0 598.0L472.0 470.0L330.0 520.0Z" fill="#fca17f" /><path d="M330.0 545.0C330.0 545.0 396.3 539.2 420.0 530.0C443.7 520.8 472.0 490.0 472.0 490.0C472.0 490.0 484.0 525.0 472.0 540.0C460.0 555.0 423.7 572.5 400.0 580.0C376.3 587.5 330.0 585.0 330.0 585.0L330.0 545.0Z" fill="#f58d73" /><ellipse cx="517" cy="423" rx="27" ry="52" fill="#fca17f"/><path d="M528.0 400.0C528.0 400.0 510.0 418.7 508.0 428.0C506.0 437.3 516.0 456.0 516.0 456.0" fill="none" stroke="#f58d73" stroke-width="6" stroke-linecap="round" stroke-linejoin="round" /><path d="M224.0 230.0L500.0 230.0C500.0 230.0 503.3 361.0 502.0 400.0C500.7 439.0 498.0 446.3 492.0 464.0C486.0 481.7 481.3 494.7 466.0 506.0C450.7 517.3 422.8 523.5 400.0 532.0C377.2 540.5 346.3 551.2 329.0 557.0C311.7 562.8 307.3 566.0 296.0 567.0C284.7 568.0 270.0 569.5 261.0 563.0C252.0 556.5 247.0 547.2 242.0 528.0C237.0 508.8 233.7 479.5 231.0 448.0C228.3 416.5 227.2 375.3 226.0 339.0C224.8 302.7 224.0 230.0 224.0 230.0Z" fill="#fca17f" /><path d="M495.0 384.0C495.0 384.0 521.0 368.0 530.0 352.0C539.0 336.0 545.5 306.7 549.0 288.0C552.5 269.3 554.2 256.0 551.0 240.0C547.8 224.0 540.5 205.3 530.0 192.0C519.5 178.7 503.5 168.0 488.0 160.0C472.5 152.0 454.0 146.7 437.0 144.0C420.0 141.3 402.0 142.3 386.0 144.0C370.0 145.7 352.7 150.5 341.0 154.0C329.3 157.5 325.0 163.7 316.0 165.0C307.0 166.3 299.3 159.2 287.0 162.0C274.7 164.8 255.3 171.7 242.0 182.0C228.7 192.3 215.0 209.5 207.0 224.0C199.0 238.5 195.2 255.2 194.0 269.0C192.8 282.8 196.0 296.2 200.0 307.0C204.0 317.8 218.0 334.0 218.0 334.0C218.0 334.0 230.7 327.7 239.0 320.0C247.3 312.3 258.5 298.3 268.0 288.0C277.5 277.7 296.0 258.0 296.0 258.0L349.0 272.0L322.0 240.0C322.0 240.0 344.0 252.3 360.0 256.0C376.0 259.7 400.8 259.7 418.0 262.0C435.2 264.3 463.0 270.0 463.0 270.0C463.0 270.0 473.7 301.0 479.0 320.0C484.3 339.0 495.0 384.0 495.0 384.0Z" fill="#111416" /><ellipse cx="258" cy="379" rx="15" ry="25" fill="#111416"/><ellipse cx="380" cy="374" rx="16" ry="25" fill="#111416"/><path d="M236.0 342.0C236.0 342.0 249.3 338.0 255.0 336.0C260.7 334.0 270.0 330.0 270.0 330.0" fill="none" stroke="#33383b" stroke-width="12" stroke-linecap="round" stroke-linejoin="round" /><path d="M354.0 301.0C354.0 301.0 369.3 316.0 380.0 320.0C390.7 324.0 418.0 325.0 418.0 325.0" fill="none" stroke="#33383b" stroke-width="15" stroke-linecap="round" stroke-linejoin="round" /><path d="M306.0 358.0C306.0 358.0 297.3 419.2 300.0 432.0C302.7 444.8 322.0 435.0 322.0 435.0" fill="none" stroke="#e26f5a" stroke-width="6" stroke-linecap="round" stroke-linejoin="round" /><path d="M303.0 477.0C303.0 477.0 319.5 470.3 328.0 470.0C336.5 469.7 354.0 475.0 354.0 475.0" fill="none" stroke="#c9614f" stroke-width="6" stroke-linecap="round" stroke-linejoin="round" /><path d="M312.0 500.0L344.0 497.0" fill="none" stroke="#f58d73" stroke-width="5" stroke-linecap="round" stroke-linejoin="round" /><path d="M1200.0 285.0C1235.0 283.3 1278.3 290.8 1310.0 310.0C1341.7 329.2 1371.7 365.0 1390.0 400.0C1408.3 435.0 1411.7 480.0 1420.0 520.0C1428.3 560.0 1433.0 606.3 1440.0 640.0C1447.0 673.7 1462.0 722.0 1462.0 722.0C1462.0 722.0 1415.3 739.3 1380.0 746.0C1344.7 752.7 1288.3 758.7 1250.0 762.0C1211.7 765.3 1185.0 770.3 1150.0 766.0C1115.0 761.7 1075.8 749.5 1040.0 736.0C1004.2 722.5 935.0 685.0 935.0 685.0C935.0 685.0 975.8 647.5 990.0 620.0C1004.2 592.5 1011.7 555.0 1020.0 520.0C1028.3 485.0 1026.7 443.3 1040.0 410.0C1053.3 376.7 1073.3 340.8 1100.0 320.0C1126.7 299.2 1165.0 286.7 1200.0 285.0Z" fill="#111416" /><path d="M1150.0 690.0C1150.0 690.0 1153.3 769.2 1140.0 790.0C1126.7 810.8 1070.0 815.0 1070.0 815.0C1070.0 815.0 1156.3 849.5 1200.0 852.0C1243.7 854.5 1332.0 830.0 1332.0 830.0C1332.0 830.0 1275.3 796.7 1262.0 770.0C1248.7 743.3 1252.0 670.0 1252.0 670.0L1150.0 690.0Z" fill="#fca17f" /><path d="M1150.0 700.0C1150.0 700.0 1163.0 719.0 1180.0 716.0C1197.0 713.0 1252.0 682.0 1252.0 682.0C1252.0 682.0 1263.7 717.0 1255.0 730.0C1246.3 743.0 1218.3 756.7 1200.0 760.0C1181.7 763.3 1145.0 750.0 1145.0 750.0L1150.0 700.0Z" fill="#f58d73" /><g clip-path="url(#cl6)"><ellipse cx="1160" cy="1218" rx="300" ry="22" fill="none" stroke="#5a8c98" stroke-width="9"/><path d="M1070.0 812.0C1070.0 812.0 990.0 852.0 960.0 880.0C930.0 908.0 905.0 943.3 890.0 980.0C875.0 1016.7 875.8 1003.3 870.0 1100.0C864.2 1196.7 855.0 1560.0 855.0 1560.0L1500.0 1560.0C1500.0 1560.0 1467.0 1235.0 1462.0 1150.0C1457.0 1065.0 1473.7 1081.7 1470.0 1050.0C1466.3 1018.3 1455.0 988.3 1440.0 960.0C1425.0 931.7 1398.0 901.7 1380.0 880.0C1362.0 858.3 1332.0 830.0 1332.0 830.0C1332.0 830.0 1243.7 855.0 1200.0 852.0C1156.3 849.0 1070.0 812.0 1070.0 812.0Z" fill="#38666f" /><path d="M1210.0 1212.0C1210.0 1212.0 1235.0 1220.7 1250.0 1218.0C1265.0 1215.3 1300.0 1196.0 1300.0 1196.0" fill="none" stroke="#2c545c" stroke-width="9" stroke-linecap="round" stroke-linejoin="round" /><path d="M1340.0 792.0C1343.3 772.0 1380.0 760.3 1400.0 760.0C1420.0 759.7 1444.7 783.0 1460.0 790.0C1475.3 797.0 1492.0 802.0 1492.0 802.0C1492.0 802.0 1474.3 720.3 1470.0 700.0C1465.7 679.7 1462.3 685.0 1466.0 680.0C1469.7 675.0 1481.3 656.7 1492.0 670.0C1502.7 683.3 1520.3 721.7 1530.0 760.0C1539.7 798.3 1535.0 860.0 1550.0 900.0C1565.0 940.0 1620.0 1000.0 1620.0 1000.0L1520.0 1160.0C1520.0 1160.0 1493.3 1083.3 1480.0 1050.0C1466.7 1016.7 1456.7 988.3 1440.0 960.0C1423.3 931.7 1396.7 908.0 1380.0 880.0C1363.3 852.0 1336.7 812.0 1340.0 792.0Z" fill="#fca17f" /></g><path d="M1370.0 800.0C1370.0 800.0 1398.3 782.0 1410.0 782.0C1421.7 782.0 1440.0 800.0 1440.0 800.0" fill="none" stroke="#f58d73" stroke-width="7" stroke-linecap="round" stroke-linejoin="round" /><path d="M1390.0 830.0C1390.0 830.0 1415.0 814.2 1425.0 815.0C1435.0 815.8 1450.0 835.0 1450.0 835.0" fill="none" stroke="#f58d73" stroke-width="7" stroke-linecap="round" stroke-linejoin="round" /><ellipse cx="1315" cy="625" rx="28" ry="45" fill="#fca17f"/><path d="M1322.0 602.0C1322.0 602.0 1305.7 619.7 1304.0 628.0C1302.3 636.3 1312.0 652.0 1312.0 652.0" fill="none" stroke="#f58d73" stroke-width="5" stroke-linecap="round" stroke-linejoin="round" /><path d="M1075.0 400.0L1302.0 400.0C1302.0 400.0 1310.7 573.0 1302.0 620.0C1293.3 667.0 1270.3 666.0 1250.0 682.0C1229.7 698.0 1201.7 712.7 1180.0 716.0C1158.3 719.3 1137.5 714.7 1120.0 702.0C1102.5 689.3 1085.0 663.7 1075.0 640.0C1065.0 616.3 1060.0 600.0 1060.0 560.0C1060.0 520.0 1075.0 400.0 1075.0 400.0Z" fill="#fca17f" /><path d="M1040.0 520.0C1040.0 520.0 1031.7 416.7 1050.0 380.0C1068.3 343.3 1108.3 308.3 1150.0 300.0C1191.7 291.7 1268.3 280.0 1300.0 330.0C1331.7 380.0 1340.0 600.0 1340.0 600.0C1340.0 600.0 1321.7 541.7 1310.0 520.0C1298.3 498.3 1288.3 483.3 1270.0 470.0C1251.7 456.7 1216.7 451.7 1200.0 440.0C1183.3 428.3 1170.0 400.0 1170.0 400.0L1160.0 440.0C1160.0 440.0 1131.7 429.2 1120.0 430.0C1108.3 430.8 1097.5 438.3 1090.0 445.0C1082.5 451.7 1075.0 470.0 1075.0 470.0L1040.0 520.0Z" fill="#111416" /><ellipse cx="1098" cy="515" rx="15" ry="25" fill="#111416" transform="rotate(8 1098 515)"/><ellipse cx="1200" cy="545" rx="17" ry="27" fill="#111416" transform="rotate(10 1200 545)"/><path d="M1080.0 492.0L1070.0 500.0" fill="none" stroke="#111416" stroke-width="6" stroke-linecap="round" stroke-linejoin="round" /><path d="M1218.0 520.0L1230.0 512.0" fill="none" stroke="#111416" stroke-width="6" stroke-linecap="round" stroke-linejoin="round" /><path d="M1088.0 468.0C1088.0 468.0 1102.7 459.0 1110.0 457.0C1117.3 455.0 1132.0 456.0 1132.0 456.0" fill="none" stroke="#33383b" stroke-width="13" stroke-linecap="round" stroke-linejoin="round" /><path d="M1193.0 481.0C1193.0 481.0 1211.5 481.3 1220.0 485.0C1228.5 488.7 1244.0 503.0 1244.0 503.0" fill="none" stroke="#33383b" stroke-width="13" stroke-linecap="round" stroke-linejoin="round" /><path d="M1130.0 520.0C1130.0 520.0 1114.3 568.7 1116.0 580.0C1117.7 591.3 1140.0 588.0 1140.0 588.0" fill="none" stroke="#e26f5a" stroke-width="6" stroke-linecap="round" stroke-linejoin="round" /><path d="M1095.0 632.0C1095.0 632.0 1115.3 624.3 1125.0 625.0C1134.7 625.7 1153.0 636.0 1153.0 636.0" fill="none" stroke="#b4493e" stroke-width="6" stroke-linecap="round" stroke-linejoin="round" /><path d="M1108.0 660.0L1140.0 660.0" fill="none" stroke="#f58d73" stroke-width="5" stroke-linecap="round" stroke-linejoin="round" /></g>
<g font-family="'Liberation Sans', sans-serif" font-size="36" fill="#1e1e1e" stroke="#fff" stroke-width="0.9">
<text x="175.4" y="1256.7" textLength="430.5" lengthAdjust="spacingAndGlyphs">Humans want to form</text>
<text x="182.0" y="1302.7" textLength="416.0" lengthAdjust="spacingAndGlyphs">bonds with others for</text>
<text x="139.0" y="1348.7" textLength="508.0" lengthAdjust="spacingAndGlyphs">love, support and survival.</text>
<text x="732.8" y="1256.7" textLength="510.5" lengthAdjust="spacingAndGlyphs">Sometimes, we bond with</text>
<text x="758.6" y="1302.7" textLength="459.8" lengthAdjust="spacingAndGlyphs">people who mentally or</text>
<text x="797.3" y="1348.7" textLength="385.7" lengthAdjust="spacingAndGlyphs">physically abuse us.</text>
<text x="1358.3" y="1256.7" textLength="455.4" lengthAdjust="spacingAndGlyphs">If we are dependent on</text>
<text x="1348.2" y="1302.7" textLength="474.1" lengthAdjust="spacingAndGlyphs">this person for support a</text>
<text x="1353.7" y="1348.7" textLength="469.3" lengthAdjust="spacingAndGlyphs">trauma bond can occur.</text>
<text x="178.0" y="2173.5" textLength="428.0" lengthAdjust="spacingAndGlyphs">This trauma bond can</text>
<text x="191.3" y="2220.0" textLength="401.7" lengthAdjust="spacingAndGlyphs">alternate abuse with</text>
<text x="150.6" y="2266.5" textLength="484.4" lengthAdjust="spacingAndGlyphs">remorse and making up.</text>
<text x="732.0" y="2173.5" textLength="513.3" lengthAdjust="spacingAndGlyphs">Remorseful behaviour can</text>
<text x="728.7" y="2220.0" textLength="519.5" lengthAdjust="spacingAndGlyphs">make you feel grateful and</text>
<text x="802.8" y="2266.5" textLength="373.0" lengthAdjust="spacingAndGlyphs">reinforce the bond.</text>
<text x="1368.0" y="2173.5" textLength="436.1" lengthAdjust="spacingAndGlyphs">Then, the abused feels</text>
<text x="1362.7" y="2220.0" textLength="446.7" lengthAdjust="spacingAndGlyphs">love for the abuser and</text>
<text x="1395.2" y="2266.5" textLength="386.1" lengthAdjust="spacingAndGlyphs">the cycle continues.</text>
</g>
</svg></body></html>
